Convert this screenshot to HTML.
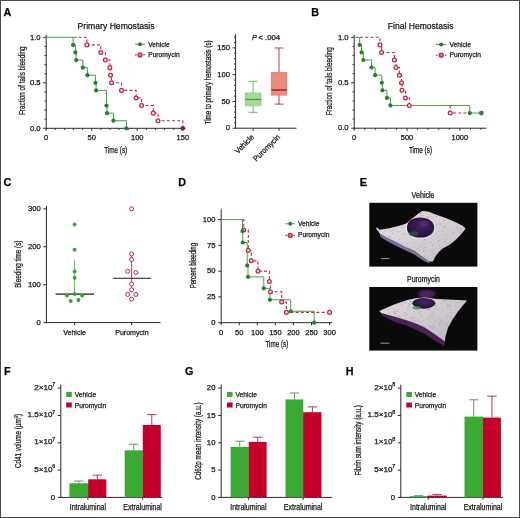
<!DOCTYPE html>
<html><head><meta charset="utf-8"><style>
html,body{margin:0;padding:0;background:#fff;}
svg{display:block;will-change:transform;}
text{font-family:"Liberation Sans",sans-serif;stroke:#161616;stroke-width:0.25px;}
</style></head><body>
<svg width="520" height="518" viewBox="0 0 520 518">
<rect width="520" height="518" fill="#fff"/>
<rect x="0.5" y="0.5" width="519" height="517" fill="none" stroke="#4a4a4a" stroke-width="1"/>
<text x="3.60" y="15.80" font-size="10.8" text-anchor="start" textLength="7.80" lengthAdjust="spacingAndGlyphs" fill="#000" font-weight="bold">A</text>
<text x="311.30" y="15.80" font-size="10.8" text-anchor="start" textLength="7.80" lengthAdjust="spacingAndGlyphs" fill="#000" font-weight="bold">B</text>
<text x="3.60" y="186.10" font-size="10.8" text-anchor="start" textLength="7.80" lengthAdjust="spacingAndGlyphs" fill="#000" font-weight="bold">C</text>
<text x="178.20" y="185.80" font-size="10.8" text-anchor="start" textLength="7.80" lengthAdjust="spacingAndGlyphs" fill="#000" font-weight="bold">D</text>
<text x="359.80" y="186.00" font-size="10.8" text-anchor="start" textLength="7.20" lengthAdjust="spacingAndGlyphs" fill="#000" font-weight="bold">E</text>
<text x="3.90" y="374.70" font-size="10.8" text-anchor="start" textLength="6.60" lengthAdjust="spacingAndGlyphs" fill="#000" font-weight="bold">F</text>
<text x="185.00" y="374.90" font-size="10.8" text-anchor="start" textLength="8.40" lengthAdjust="spacingAndGlyphs" fill="#000" font-weight="bold">G</text>
<text x="345.80" y="374.70" font-size="10.8" text-anchor="start" textLength="7.80" lengthAdjust="spacingAndGlyphs" fill="#000" font-weight="bold">H</text>
<text x="116.10" y="29.20" font-size="9.6" text-anchor="middle" textLength="77.00" lengthAdjust="spacingAndGlyphs" fill="#161616">Primary Hemostasis</text>
<line x1="46.20" y1="34.80" x2="46.20" y2="128.80" stroke="#2a2a2a" stroke-width="1.0"/>
<line x1="43.20" y1="37.30" x2="46.20" y2="37.30" stroke="#2a2a2a" stroke-width="1.0"/>
<text x="40.60" y="39.50" font-size="7.5" text-anchor="end" textLength="10.63" lengthAdjust="spacingAndGlyphs" fill="#161616">1.0</text>
<line x1="43.20" y1="82.80" x2="46.20" y2="82.80" stroke="#2a2a2a" stroke-width="1.0"/>
<text x="40.60" y="85.00" font-size="7.5" text-anchor="end" textLength="10.63" lengthAdjust="spacingAndGlyphs" fill="#161616">0.5</text>
<line x1="43.20" y1="128.30" x2="46.20" y2="128.30" stroke="#2a2a2a" stroke-width="1.0"/>
<text x="40.60" y="130.50" font-size="7.5" text-anchor="end" textLength="10.63" lengthAdjust="spacingAndGlyphs" fill="#161616">0.0</text>
<line x1="44.60" y1="119.20" x2="46.20" y2="119.20" stroke="#2a2a2a" stroke-width="1.0"/>
<line x1="44.60" y1="110.10" x2="46.20" y2="110.10" stroke="#2a2a2a" stroke-width="1.0"/>
<line x1="44.60" y1="101.00" x2="46.20" y2="101.00" stroke="#2a2a2a" stroke-width="1.0"/>
<line x1="44.60" y1="91.90" x2="46.20" y2="91.90" stroke="#2a2a2a" stroke-width="1.0"/>
<line x1="44.60" y1="73.70" x2="46.20" y2="73.70" stroke="#2a2a2a" stroke-width="1.0"/>
<line x1="44.60" y1="64.60" x2="46.20" y2="64.60" stroke="#2a2a2a" stroke-width="1.0"/>
<line x1="44.60" y1="55.50" x2="46.20" y2="55.50" stroke="#2a2a2a" stroke-width="1.0"/>
<line x1="44.60" y1="46.40" x2="46.20" y2="46.40" stroke="#2a2a2a" stroke-width="1.0"/>
<line x1="45.70" y1="128.30" x2="185.50" y2="128.30" stroke="#2a2a2a" stroke-width="1.0"/>
<line x1="46.20" y1="128.30" x2="46.20" y2="130.90" stroke="#2a2a2a" stroke-width="1.0"/>
<text x="46.20" y="140.20" font-size="7.5" text-anchor="middle" textLength="4.17" lengthAdjust="spacingAndGlyphs" fill="#161616">0</text>
<line x1="91.73" y1="128.30" x2="91.73" y2="130.90" stroke="#2a2a2a" stroke-width="1.0"/>
<text x="91.73" y="140.20" font-size="7.5" text-anchor="middle" textLength="8.34" lengthAdjust="spacingAndGlyphs" fill="#161616">50</text>
<line x1="137.27" y1="128.30" x2="137.27" y2="130.90" stroke="#2a2a2a" stroke-width="1.0"/>
<text x="137.27" y="140.20" font-size="7.5" text-anchor="middle" textLength="12.51" lengthAdjust="spacingAndGlyphs" fill="#161616">100</text>
<line x1="182.81" y1="128.30" x2="182.81" y2="130.90" stroke="#2a2a2a" stroke-width="1.0"/>
<text x="182.81" y="140.20" font-size="7.5" text-anchor="middle" textLength="12.51" lengthAdjust="spacingAndGlyphs" fill="#161616">150</text>
<line x1="55.31" y1="128.30" x2="55.31" y2="129.90" stroke="#2a2a2a" stroke-width="1.0"/>
<line x1="64.41" y1="128.30" x2="64.41" y2="129.90" stroke="#2a2a2a" stroke-width="1.0"/>
<line x1="73.52" y1="128.30" x2="73.52" y2="129.90" stroke="#2a2a2a" stroke-width="1.0"/>
<line x1="82.63" y1="128.30" x2="82.63" y2="129.90" stroke="#2a2a2a" stroke-width="1.0"/>
<line x1="100.84" y1="128.30" x2="100.84" y2="129.90" stroke="#2a2a2a" stroke-width="1.0"/>
<line x1="109.95" y1="128.30" x2="109.95" y2="129.90" stroke="#2a2a2a" stroke-width="1.0"/>
<line x1="119.06" y1="128.30" x2="119.06" y2="129.90" stroke="#2a2a2a" stroke-width="1.0"/>
<line x1="128.16" y1="128.30" x2="128.16" y2="129.90" stroke="#2a2a2a" stroke-width="1.0"/>
<line x1="146.38" y1="128.30" x2="146.38" y2="129.90" stroke="#2a2a2a" stroke-width="1.0"/>
<line x1="155.48" y1="128.30" x2="155.48" y2="129.90" stroke="#2a2a2a" stroke-width="1.0"/>
<line x1="164.59" y1="128.30" x2="164.59" y2="129.90" stroke="#2a2a2a" stroke-width="1.0"/>
<line x1="173.70" y1="128.30" x2="173.70" y2="129.90" stroke="#2a2a2a" stroke-width="1.0"/>
<text x="24.70" y="80.70" font-size="8.5" text-anchor="middle" textLength="68.60" lengthAdjust="spacingAndGlyphs" fill="#161616" transform="rotate(-90 24.70 80.70)">Fraction of tails bleeding</text>
<text x="115.70" y="152.90" font-size="8.9" text-anchor="middle" textLength="23.10" lengthAdjust="spacingAndGlyphs" fill="#161616">Time (s)</text>
<path d="M73.40,37.30 H86.90 V44.88 H100.80 V52.47 H105.30 V60.05 H109.90 V67.63 H110.60 V75.22 H111.50 V82.80 H121.50 V90.38 H136.10 V97.97 H141.60 V105.55 H153.30 V113.13 H158.00 V120.72 H182.80 V128.30" fill="none" stroke="#bb2643" stroke-width="1.1" stroke-dasharray="3,2.2"/>
<path d="M46.20,37.30 H73.10 V44.88 H75.40 V52.47 H76.20 V60.05 H82.80 V67.63 H87.40 V75.22 H95.40 V82.80 H96.10 V90.38 H106.50 V105.55 H107.00 V113.13 H113.40 V120.72 H126.40 V128.30" fill="none" stroke="#3c9a3c" stroke-width="0.95"/>
<circle cx="86.90" cy="44.88" r="1.9" fill="#f7dfe3" stroke="#bb2643" stroke-width="1.25"/>
<circle cx="100.80" cy="52.47" r="1.9" fill="#f7dfe3" stroke="#bb2643" stroke-width="1.25"/>
<circle cx="105.30" cy="60.05" r="1.9" fill="#f7dfe3" stroke="#bb2643" stroke-width="1.25"/>
<circle cx="109.90" cy="67.63" r="1.9" fill="#f7dfe3" stroke="#bb2643" stroke-width="1.25"/>
<circle cx="110.60" cy="75.22" r="1.9" fill="#f7dfe3" stroke="#bb2643" stroke-width="1.25"/>
<circle cx="111.50" cy="82.80" r="1.9" fill="#f7dfe3" stroke="#bb2643" stroke-width="1.25"/>
<circle cx="121.50" cy="90.38" r="1.9" fill="#f7dfe3" stroke="#bb2643" stroke-width="1.25"/>
<circle cx="136.10" cy="97.97" r="1.9" fill="#f7dfe3" stroke="#bb2643" stroke-width="1.25"/>
<circle cx="141.60" cy="105.55" r="1.9" fill="#f7dfe3" stroke="#bb2643" stroke-width="1.25"/>
<circle cx="153.30" cy="113.13" r="1.9" fill="#f7dfe3" stroke="#bb2643" stroke-width="1.25"/>
<circle cx="158.00" cy="120.72" r="1.9" fill="#f7dfe3" stroke="#bb2643" stroke-width="1.25"/>
<circle cx="182.80" cy="128.30" r="2.3" fill="#9a1530" stroke="none" stroke-width="1.0"/>
<circle cx="73.10" cy="44.88" r="2.1" fill="#23802f" stroke="none" stroke-width="1.0"/>
<circle cx="75.40" cy="52.47" r="2.1" fill="#23802f" stroke="none" stroke-width="1.0"/>
<circle cx="76.20" cy="60.05" r="2.1" fill="#23802f" stroke="none" stroke-width="1.0"/>
<circle cx="82.80" cy="67.63" r="2.1" fill="#23802f" stroke="none" stroke-width="1.0"/>
<circle cx="87.40" cy="75.22" r="2.1" fill="#23802f" stroke="none" stroke-width="1.0"/>
<circle cx="95.40" cy="82.80" r="2.1" fill="#23802f" stroke="none" stroke-width="1.0"/>
<circle cx="96.10" cy="90.38" r="2.1" fill="#23802f" stroke="none" stroke-width="1.0"/>
<circle cx="106.50" cy="105.55" r="2.1" fill="#23802f" stroke="none" stroke-width="1.0"/>
<circle cx="107.00" cy="113.13" r="2.1" fill="#23802f" stroke="none" stroke-width="1.0"/>
<circle cx="113.40" cy="120.72" r="2.1" fill="#23802f" stroke="none" stroke-width="1.0"/>
<circle cx="126.40" cy="128.30" r="2.1" fill="#23802f" stroke="none" stroke-width="1.0"/>
<line x1="135.10" y1="44.20" x2="144.80" y2="44.20" stroke="#3c9a3c" stroke-width="1.0"/>
<circle cx="139.95" cy="44.20" r="2.0" fill="#23802f" stroke="none" stroke-width="1.0"/>
<line x1="135.10" y1="54.90" x2="136.70" y2="54.90" stroke="#bb2643" stroke-width="1.1"/>
<line x1="143.20" y1="54.90" x2="144.80" y2="54.90" stroke="#bb2643" stroke-width="1.1"/>
<circle cx="139.95" cy="54.90" r="2.0" fill="#d9788a" stroke="#bb2643" stroke-width="1.2"/>
<text x="148.20" y="46.50" font-size="7.4" text-anchor="start" textLength="21.48" lengthAdjust="spacingAndGlyphs" fill="#161616">Vehicle</text>
<text x="148.20" y="56.90" font-size="7.4" text-anchor="start" textLength="31.46" lengthAdjust="spacingAndGlyphs" fill="#161616">Puromycin</text>
<line x1="235.60" y1="34.50" x2="235.60" y2="128.70" stroke="#2a2a2a" stroke-width="1.0"/>
<line x1="232.60" y1="128.20" x2="235.60" y2="128.20" stroke="#2a2a2a" stroke-width="1.0"/>
<text x="230.00" y="130.40" font-size="7.5" text-anchor="end" textLength="4.25" lengthAdjust="spacingAndGlyphs" fill="#161616">0</text>
<line x1="232.60" y1="101.43" x2="235.60" y2="101.43" stroke="#2a2a2a" stroke-width="1.0"/>
<text x="230.00" y="103.63" font-size="7.5" text-anchor="end" textLength="8.51" lengthAdjust="spacingAndGlyphs" fill="#161616">50</text>
<line x1="232.60" y1="74.67" x2="235.60" y2="74.67" stroke="#2a2a2a" stroke-width="1.0"/>
<text x="230.00" y="76.87" font-size="7.5" text-anchor="end" textLength="12.76" lengthAdjust="spacingAndGlyphs" fill="#161616">100</text>
<line x1="232.60" y1="47.90" x2="235.60" y2="47.90" stroke="#2a2a2a" stroke-width="1.0"/>
<text x="230.00" y="50.10" font-size="7.5" text-anchor="end" textLength="12.76" lengthAdjust="spacingAndGlyphs" fill="#161616">150</text>
<line x1="234.00" y1="122.85" x2="235.60" y2="122.85" stroke="#2a2a2a" stroke-width="1.0"/>
<line x1="234.00" y1="117.49" x2="235.60" y2="117.49" stroke="#2a2a2a" stroke-width="1.0"/>
<line x1="234.00" y1="112.14" x2="235.60" y2="112.14" stroke="#2a2a2a" stroke-width="1.0"/>
<line x1="234.00" y1="106.79" x2="235.60" y2="106.79" stroke="#2a2a2a" stroke-width="1.0"/>
<line x1="234.00" y1="96.08" x2="235.60" y2="96.08" stroke="#2a2a2a" stroke-width="1.0"/>
<line x1="234.00" y1="90.73" x2="235.60" y2="90.73" stroke="#2a2a2a" stroke-width="1.0"/>
<line x1="234.00" y1="85.37" x2="235.60" y2="85.37" stroke="#2a2a2a" stroke-width="1.0"/>
<line x1="234.00" y1="80.02" x2="235.60" y2="80.02" stroke="#2a2a2a" stroke-width="1.0"/>
<line x1="234.00" y1="69.31" x2="235.60" y2="69.31" stroke="#2a2a2a" stroke-width="1.0"/>
<line x1="234.00" y1="63.96" x2="235.60" y2="63.96" stroke="#2a2a2a" stroke-width="1.0"/>
<line x1="234.00" y1="58.61" x2="235.60" y2="58.61" stroke="#2a2a2a" stroke-width="1.0"/>
<line x1="234.00" y1="53.25" x2="235.60" y2="53.25" stroke="#2a2a2a" stroke-width="1.0"/>
<line x1="234.00" y1="42.55" x2="235.60" y2="42.55" stroke="#2a2a2a" stroke-width="1.0"/>
<line x1="234.00" y1="37.19" x2="235.60" y2="37.19" stroke="#2a2a2a" stroke-width="1.0"/>
<line x1="235.10" y1="128.20" x2="296.50" y2="128.20" stroke="#2a2a2a" stroke-width="1.0"/>
<line x1="253.10" y1="128.20" x2="253.10" y2="130.80" stroke="#2a2a2a" stroke-width="1.0"/>
<line x1="279.00" y1="128.20" x2="279.00" y2="130.80" stroke="#2a2a2a" stroke-width="1.0"/>
<text x="211.40" y="82.40" font-size="8.5" text-anchor="middle" textLength="83.80" lengthAdjust="spacingAndGlyphs" fill="#161616" transform="rotate(-90 211.40 82.40)">Time to primary hemostasis (s)</text>
<text x="252.00" y="39.60" font-size="7.3" text-anchor="start" textLength="4.87" lengthAdjust="spacingAndGlyphs" fill="#161616" font-style="italic">P</text>
<text x="258.30" y="39.60" font-size="7.3" text-anchor="start" textLength="21.90" lengthAdjust="spacingAndGlyphs" fill="#161616">&lt; .004</text>
<line x1="253.10" y1="81.30" x2="253.10" y2="112.30" stroke="#6cb46c" stroke-width="1.0"/>
<line x1="248.60" y1="81.30" x2="257.60" y2="81.30" stroke="#6cb46c" stroke-width="1.0"/>
<line x1="248.60" y1="112.30" x2="257.60" y2="112.30" stroke="#6cb46c" stroke-width="1.0"/>
<rect x="245.2" y="93.0" width="15.8" height="12.8" fill="#a7d99b" stroke="#8fca82" stroke-width="0.8"/>
<line x1="245.20" y1="99.50" x2="261.00" y2="99.50" stroke="#3f9b3f" stroke-width="1.2"/>
<line x1="279.00" y1="48.00" x2="279.00" y2="104.10" stroke="#c23a50" stroke-width="1.0"/>
<line x1="274.50" y1="48.00" x2="283.50" y2="48.00" stroke="#c23a50" stroke-width="1.0"/>
<line x1="274.50" y1="104.10" x2="283.50" y2="104.10" stroke="#c23a50" stroke-width="1.0"/>
<rect x="271.4" y="72.5" width="15.4" height="22.6" fill="#ec8a80" stroke="#e07a72" stroke-width="0.8"/>
<line x1="271.40" y1="90.00" x2="286.80" y2="90.00" stroke="#a81c32" stroke-width="1.5"/>
<text x="254.60" y="137.60" font-size="7.8" text-anchor="end" textLength="23.39" lengthAdjust="spacingAndGlyphs" fill="#161616" transform="rotate(-45 254.60 137.60)">Vehicle</text>
<text x="280.60" y="137.60" font-size="7.8" text-anchor="end" textLength="34.26" lengthAdjust="spacingAndGlyphs" fill="#161616" transform="rotate(-45 280.60 137.60)">Puromycin</text>
<text x="420.60" y="29.40" font-size="9.3" text-anchor="middle" textLength="65.70" lengthAdjust="spacingAndGlyphs" fill="#161616">Final Hemostasis</text>
<line x1="354.20" y1="34.80" x2="354.20" y2="128.70" stroke="#2a2a2a" stroke-width="1.0"/>
<line x1="351.20" y1="37.30" x2="354.20" y2="37.30" stroke="#2a2a2a" stroke-width="1.0"/>
<text x="348.60" y="39.50" font-size="7.5" text-anchor="end" textLength="10.63" lengthAdjust="spacingAndGlyphs" fill="#161616">1.0</text>
<line x1="351.20" y1="82.75" x2="354.20" y2="82.75" stroke="#2a2a2a" stroke-width="1.0"/>
<text x="348.60" y="84.95" font-size="7.5" text-anchor="end" textLength="10.63" lengthAdjust="spacingAndGlyphs" fill="#161616">0.5</text>
<line x1="351.20" y1="128.20" x2="354.20" y2="128.20" stroke="#2a2a2a" stroke-width="1.0"/>
<text x="348.60" y="130.40" font-size="7.5" text-anchor="end" textLength="10.63" lengthAdjust="spacingAndGlyphs" fill="#161616">0.0</text>
<line x1="352.60" y1="119.11" x2="354.20" y2="119.11" stroke="#2a2a2a" stroke-width="1.0"/>
<line x1="352.60" y1="110.02" x2="354.20" y2="110.02" stroke="#2a2a2a" stroke-width="1.0"/>
<line x1="352.60" y1="100.93" x2="354.20" y2="100.93" stroke="#2a2a2a" stroke-width="1.0"/>
<line x1="352.60" y1="91.84" x2="354.20" y2="91.84" stroke="#2a2a2a" stroke-width="1.0"/>
<line x1="352.60" y1="73.66" x2="354.20" y2="73.66" stroke="#2a2a2a" stroke-width="1.0"/>
<line x1="352.60" y1="64.57" x2="354.20" y2="64.57" stroke="#2a2a2a" stroke-width="1.0"/>
<line x1="352.60" y1="55.48" x2="354.20" y2="55.48" stroke="#2a2a2a" stroke-width="1.0"/>
<line x1="352.60" y1="46.39" x2="354.20" y2="46.39" stroke="#2a2a2a" stroke-width="1.0"/>
<line x1="353.70" y1="128.20" x2="486.50" y2="128.20" stroke="#2a2a2a" stroke-width="1.0"/>
<line x1="354.20" y1="128.20" x2="354.20" y2="130.80" stroke="#2a2a2a" stroke-width="1.0"/>
<text x="354.20" y="140.10" font-size="7.5" text-anchor="middle" textLength="4.17" lengthAdjust="spacingAndGlyphs" fill="#161616">0</text>
<line x1="407.03" y1="128.20" x2="407.03" y2="130.80" stroke="#2a2a2a" stroke-width="1.0"/>
<text x="407.03" y="140.10" font-size="7.5" text-anchor="middle" textLength="12.51" lengthAdjust="spacingAndGlyphs" fill="#161616">500</text>
<line x1="459.87" y1="128.20" x2="459.87" y2="130.80" stroke="#2a2a2a" stroke-width="1.0"/>
<text x="459.87" y="140.10" font-size="7.5" text-anchor="middle" textLength="16.68" lengthAdjust="spacingAndGlyphs" fill="#161616">1000</text>
<line x1="364.77" y1="128.20" x2="364.77" y2="129.80" stroke="#2a2a2a" stroke-width="1.0"/>
<line x1="375.33" y1="128.20" x2="375.33" y2="129.80" stroke="#2a2a2a" stroke-width="1.0"/>
<line x1="385.90" y1="128.20" x2="385.90" y2="129.80" stroke="#2a2a2a" stroke-width="1.0"/>
<line x1="396.47" y1="128.20" x2="396.47" y2="129.80" stroke="#2a2a2a" stroke-width="1.0"/>
<line x1="417.60" y1="128.20" x2="417.60" y2="129.80" stroke="#2a2a2a" stroke-width="1.0"/>
<line x1="428.17" y1="128.20" x2="428.17" y2="129.80" stroke="#2a2a2a" stroke-width="1.0"/>
<line x1="438.74" y1="128.20" x2="438.74" y2="129.80" stroke="#2a2a2a" stroke-width="1.0"/>
<line x1="449.30" y1="128.20" x2="449.30" y2="129.80" stroke="#2a2a2a" stroke-width="1.0"/>
<line x1="470.44" y1="128.20" x2="470.44" y2="129.80" stroke="#2a2a2a" stroke-width="1.0"/>
<line x1="481.00" y1="128.20" x2="481.00" y2="129.80" stroke="#2a2a2a" stroke-width="1.0"/>
<text x="332.40" y="81.20" font-size="8.5" text-anchor="middle" textLength="68.00" lengthAdjust="spacingAndGlyphs" fill="#161616" transform="rotate(-90 332.40 81.20)">Fraction of tails bleeding</text>
<text x="420.50" y="152.90" font-size="8.9" text-anchor="middle" textLength="23.10" lengthAdjust="spacingAndGlyphs" fill="#161616">Time (s)</text>
<path d="M360.00,37.30 H379.90 V44.88 H381.60 V52.45 H394.40 V60.02 H395.90 V67.60 H399.40 V75.17 H401.50 V82.75 H402.00 V90.32 H405.40 V97.90 H409.30 V105.47 M450.2,105.47 V113.05 H469.8" fill="none" stroke="#bb2643" stroke-width="1.1" stroke-dasharray="3,2.2"/>
<path d="M354.20,37.30 H359.70 V44.88 H361.60 V52.45 H363.30 V60.02 H371.50 V67.60 H375.10 V75.17 H381.80 V82.75 H382.40 V90.32 H386.90 V97.90 H390.40 V105.47 H469.80 V113.05 H481.3" fill="none" stroke="#3c9a3c" stroke-width="0.95"/>
<circle cx="379.90" cy="44.88" r="1.9" fill="#f7dfe3" stroke="#bb2643" stroke-width="1.25"/>
<circle cx="381.60" cy="52.45" r="1.9" fill="#f7dfe3" stroke="#bb2643" stroke-width="1.25"/>
<circle cx="394.40" cy="60.02" r="1.9" fill="#f7dfe3" stroke="#bb2643" stroke-width="1.25"/>
<circle cx="395.90" cy="67.60" r="1.9" fill="#f7dfe3" stroke="#bb2643" stroke-width="1.25"/>
<circle cx="399.40" cy="75.17" r="1.9" fill="#f7dfe3" stroke="#bb2643" stroke-width="1.25"/>
<circle cx="401.50" cy="82.75" r="1.9" fill="#f7dfe3" stroke="#bb2643" stroke-width="1.25"/>
<circle cx="402.00" cy="90.32" r="1.9" fill="#f7dfe3" stroke="#bb2643" stroke-width="1.25"/>
<circle cx="405.40" cy="97.90" r="1.9" fill="#f7dfe3" stroke="#bb2643" stroke-width="1.25"/>
<circle cx="409.30" cy="105.47" r="1.9" fill="#f7dfe3" stroke="#bb2643" stroke-width="1.25"/>
<circle cx="450.20" cy="113.05" r="1.9" fill="#f7dfe3" stroke="#bb2643" stroke-width="1.25"/>
<circle cx="359.70" cy="44.88" r="2.1" fill="#23802f" stroke="none" stroke-width="1.0"/>
<circle cx="361.60" cy="52.45" r="2.1" fill="#23802f" stroke="none" stroke-width="1.0"/>
<circle cx="363.30" cy="60.02" r="2.1" fill="#23802f" stroke="none" stroke-width="1.0"/>
<circle cx="371.50" cy="67.60" r="2.1" fill="#23802f" stroke="none" stroke-width="1.0"/>
<circle cx="375.10" cy="75.17" r="2.1" fill="#23802f" stroke="none" stroke-width="1.0"/>
<circle cx="381.80" cy="82.75" r="2.1" fill="#23802f" stroke="none" stroke-width="1.0"/>
<circle cx="382.40" cy="90.32" r="2.1" fill="#23802f" stroke="none" stroke-width="1.0"/>
<circle cx="386.90" cy="97.90" r="2.1" fill="#23802f" stroke="none" stroke-width="1.0"/>
<circle cx="390.40" cy="105.47" r="2.1" fill="#23802f" stroke="none" stroke-width="1.0"/>
<circle cx="469.80" cy="113.05" r="2.1" fill="#23802f" stroke="none" stroke-width="1.0"/>
<circle cx="481.30" cy="113.05" r="2.4" fill="#3a7a3a" stroke="none" stroke-width="1.0"/>
<line x1="436.00" y1="44.40" x2="446.40" y2="44.40" stroke="#3c9a3c" stroke-width="1.0"/>
<circle cx="441.20" cy="44.40" r="2.0" fill="#23802f" stroke="none" stroke-width="1.0"/>
<line x1="436.00" y1="55.20" x2="437.60" y2="55.20" stroke="#bb2643" stroke-width="1.1"/>
<line x1="444.80" y1="55.20" x2="446.40" y2="55.20" stroke="#bb2643" stroke-width="1.1"/>
<circle cx="441.20" cy="55.20" r="2.0" fill="#d9788a" stroke="#bb2643" stroke-width="1.2"/>
<text x="449.50" y="46.70" font-size="7.4" text-anchor="start" textLength="21.48" lengthAdjust="spacingAndGlyphs" fill="#161616">Vehicle</text>
<text x="449.50" y="57.20" font-size="7.4" text-anchor="start" textLength="31.46" lengthAdjust="spacingAndGlyphs" fill="#161616">Puromycin</text>
<line x1="46.40" y1="205.80" x2="46.40" y2="323.10" stroke="#2a2a2a" stroke-width="1.0"/>
<line x1="43.40" y1="322.60" x2="46.40" y2="322.60" stroke="#2a2a2a" stroke-width="1.0"/>
<text x="40.80" y="324.80" font-size="7.5" text-anchor="end" textLength="4.25" lengthAdjust="spacingAndGlyphs" fill="#161616">0</text>
<line x1="43.40" y1="284.67" x2="46.40" y2="284.67" stroke="#2a2a2a" stroke-width="1.0"/>
<text x="40.80" y="286.87" font-size="7.5" text-anchor="end" textLength="12.76" lengthAdjust="spacingAndGlyphs" fill="#161616">100</text>
<line x1="43.40" y1="246.73" x2="46.40" y2="246.73" stroke="#2a2a2a" stroke-width="1.0"/>
<text x="40.80" y="248.93" font-size="7.5" text-anchor="end" textLength="12.76" lengthAdjust="spacingAndGlyphs" fill="#161616">200</text>
<line x1="43.40" y1="208.80" x2="46.40" y2="208.80" stroke="#2a2a2a" stroke-width="1.0"/>
<text x="40.80" y="211.00" font-size="7.5" text-anchor="end" textLength="12.76" lengthAdjust="spacingAndGlyphs" fill="#161616">300</text>
<line x1="45.90" y1="322.60" x2="160.50" y2="322.60" stroke="#2a2a2a" stroke-width="1.0"/>
<line x1="74.60" y1="322.60" x2="74.60" y2="325.20" stroke="#2a2a2a" stroke-width="1.0"/>
<line x1="131.60" y1="322.60" x2="131.60" y2="325.20" stroke="#2a2a2a" stroke-width="1.0"/>
<text x="74.60" y="335.40" font-size="7.9" text-anchor="middle" textLength="22.80" lengthAdjust="spacingAndGlyphs" fill="#161616">Vehicle</text>
<text x="131.90" y="335.40" font-size="7.9" text-anchor="middle" textLength="33.40" lengthAdjust="spacingAndGlyphs" fill="#161616">Puromycin</text>
<text x="20.60" y="264.20" font-size="8.5" text-anchor="middle" textLength="47.30" lengthAdjust="spacingAndGlyphs" fill="#161616" transform="rotate(-90 20.60 264.20)">Bleeding time (s)</text>
<line x1="74.60" y1="260.20" x2="74.60" y2="294.10" stroke="#5cbf55" stroke-width="1.0"/>
<line x1="55.60" y1="294.10" x2="94.00" y2="294.10" stroke="#1a1a1a" stroke-width="1.05"/>
<circle cx="74.60" cy="224.60" r="2.0" fill="#3aa33a" stroke="none" stroke-width="1.0"/>
<circle cx="74.60" cy="249.70" r="2.0" fill="#3aa33a" stroke="none" stroke-width="1.0"/>
<circle cx="74.60" cy="271.50" r="2.0" fill="#3aa33a" stroke="none" stroke-width="1.0"/>
<circle cx="74.60" cy="277.80" r="2.0" fill="#3aa33a" stroke="none" stroke-width="1.0"/>
<circle cx="66.90" cy="295.40" r="2.0" fill="#3aa33a" stroke="none" stroke-width="1.0"/>
<circle cx="74.60" cy="294.10" r="2.0" fill="#3aa33a" stroke="none" stroke-width="1.0"/>
<circle cx="82.20" cy="295.40" r="2.0" fill="#3aa33a" stroke="none" stroke-width="1.0"/>
<circle cx="70.60" cy="300.90" r="2.0" fill="#3aa33a" stroke="none" stroke-width="1.0"/>
<circle cx="78.40" cy="299.90" r="2.0" fill="#3aa33a" stroke="none" stroke-width="1.0"/>
<line x1="131.60" y1="254.00" x2="131.60" y2="289.80" stroke="#b83650" stroke-width="0.95"/>
<line x1="113.00" y1="278.30" x2="151.00" y2="278.30" stroke="#1a1a1a" stroke-width="1.05"/>
<circle cx="131.60" cy="208.80" r="2.0" fill="#fff" stroke="#bb2643" stroke-width="1.0"/>
<circle cx="131.60" cy="254.00" r="2.0" fill="#fff" stroke="#bb2643" stroke-width="1.0"/>
<circle cx="131.60" cy="259.50" r="2.0" fill="#fff" stroke="#bb2643" stroke-width="1.0"/>
<circle cx="127.60" cy="271.30" r="2.0" fill="#fff" stroke="#bb2643" stroke-width="1.0"/>
<circle cx="135.90" cy="272.50" r="2.0" fill="#fff" stroke="#bb2643" stroke-width="1.0"/>
<circle cx="131.60" cy="284.00" r="2.0" fill="#fff" stroke="#bb2643" stroke-width="1.0"/>
<circle cx="131.60" cy="289.80" r="2.0" fill="#fff" stroke="#bb2643" stroke-width="1.0"/>
<circle cx="127.60" cy="294.40" r="2.0" fill="#fff" stroke="#bb2643" stroke-width="1.0"/>
<circle cx="135.90" cy="294.40" r="2.0" fill="#fff" stroke="#bb2643" stroke-width="1.0"/>
<circle cx="131.60" cy="299.10" r="2.0" fill="#fff" stroke="#bb2643" stroke-width="1.0"/>
<line x1="221.20" y1="208.90" x2="221.20" y2="323.20" stroke="#2a2a2a" stroke-width="1.0"/>
<line x1="218.20" y1="322.70" x2="221.20" y2="322.70" stroke="#2a2a2a" stroke-width="1.0"/>
<text x="215.60" y="324.90" font-size="7.5" text-anchor="end" textLength="4.25" lengthAdjust="spacingAndGlyphs" fill="#161616">0</text>
<line x1="218.20" y1="296.93" x2="221.20" y2="296.93" stroke="#2a2a2a" stroke-width="1.0"/>
<text x="215.60" y="299.12" font-size="7.5" text-anchor="end" textLength="8.51" lengthAdjust="spacingAndGlyphs" fill="#161616">25</text>
<line x1="218.20" y1="271.15" x2="221.20" y2="271.15" stroke="#2a2a2a" stroke-width="1.0"/>
<text x="215.60" y="273.35" font-size="7.5" text-anchor="end" textLength="8.51" lengthAdjust="spacingAndGlyphs" fill="#161616">50</text>
<line x1="218.20" y1="245.38" x2="221.20" y2="245.38" stroke="#2a2a2a" stroke-width="1.0"/>
<text x="215.60" y="247.57" font-size="7.5" text-anchor="end" textLength="8.51" lengthAdjust="spacingAndGlyphs" fill="#161616">75</text>
<line x1="218.20" y1="219.60" x2="221.20" y2="219.60" stroke="#2a2a2a" stroke-width="1.0"/>
<text x="215.60" y="221.80" font-size="7.5" text-anchor="end" textLength="12.76" lengthAdjust="spacingAndGlyphs" fill="#161616">100</text>
<line x1="220.70" y1="322.70" x2="332.30" y2="322.70" stroke="#2a2a2a" stroke-width="1.0"/>
<line x1="221.20" y1="322.70" x2="221.20" y2="325.30" stroke="#2a2a2a" stroke-width="1.0"/>
<text x="221.20" y="334.60" font-size="7.5" text-anchor="middle" textLength="4.17" lengthAdjust="spacingAndGlyphs" fill="#161616">0</text>
<line x1="239.26" y1="322.70" x2="239.26" y2="325.30" stroke="#2a2a2a" stroke-width="1.0"/>
<text x="239.26" y="334.60" font-size="7.5" text-anchor="middle" textLength="8.34" lengthAdjust="spacingAndGlyphs" fill="#161616">50</text>
<line x1="257.33" y1="322.70" x2="257.33" y2="325.30" stroke="#2a2a2a" stroke-width="1.0"/>
<text x="257.33" y="334.60" font-size="7.5" text-anchor="middle" textLength="12.51" lengthAdjust="spacingAndGlyphs" fill="#161616">100</text>
<line x1="275.39" y1="322.70" x2="275.39" y2="325.30" stroke="#2a2a2a" stroke-width="1.0"/>
<text x="275.39" y="334.60" font-size="7.5" text-anchor="middle" textLength="12.51" lengthAdjust="spacingAndGlyphs" fill="#161616">150</text>
<line x1="293.46" y1="322.70" x2="293.46" y2="325.30" stroke="#2a2a2a" stroke-width="1.0"/>
<text x="293.46" y="334.60" font-size="7.5" text-anchor="middle" textLength="12.51" lengthAdjust="spacingAndGlyphs" fill="#161616">200</text>
<line x1="311.52" y1="322.70" x2="311.52" y2="325.30" stroke="#2a2a2a" stroke-width="1.0"/>
<text x="311.52" y="334.60" font-size="7.5" text-anchor="middle" textLength="12.51" lengthAdjust="spacingAndGlyphs" fill="#161616">250</text>
<line x1="329.59" y1="322.70" x2="329.59" y2="325.30" stroke="#2a2a2a" stroke-width="1.0"/>
<text x="329.59" y="334.60" font-size="7.5" text-anchor="middle" textLength="12.51" lengthAdjust="spacingAndGlyphs" fill="#161616">300</text>
<text x="196.00" y="265.60" font-size="8.5" text-anchor="middle" textLength="45.40" lengthAdjust="spacingAndGlyphs" fill="#161616" transform="rotate(-90 196.00 265.60)">Percent bleeding</text>
<text x="276.90" y="347.40" font-size="8.9" text-anchor="middle" textLength="22.80" lengthAdjust="spacingAndGlyphs" fill="#161616">Time (s)</text>
<path d="M242.80,219.60 H243.80 V229.91 H248.30 V250.53 H251.30 V260.84 H258.00 V271.15 H269.40 V281.46 H270.40 V291.77 H281.70 V302.08 H286.40 V312.39 H329.6" fill="none" stroke="#bb2643" stroke-width="1.1" stroke-dasharray="3,2.2"/>
<path d="M221.20,219.60 H242.50 V231.06 H242.80 V242.51 H247.20 V265.42 H248.00 V276.88 H263.80 V288.33 H269.90 V299.79 H290.70 V311.24 H314.20 V322.70" fill="none" stroke="#3c9a3c" stroke-width="0.95"/>
<circle cx="243.80" cy="229.91" r="1.9" fill="#f7dfe3" stroke="#bb2643" stroke-width="1.25"/>
<circle cx="248.30" cy="250.53" r="1.9" fill="#f7dfe3" stroke="#bb2643" stroke-width="1.25"/>
<circle cx="251.30" cy="260.84" r="1.9" fill="#f7dfe3" stroke="#bb2643" stroke-width="1.25"/>
<circle cx="258.00" cy="271.15" r="1.9" fill="#f7dfe3" stroke="#bb2643" stroke-width="1.25"/>
<circle cx="269.40" cy="281.46" r="1.9" fill="#f7dfe3" stroke="#bb2643" stroke-width="1.25"/>
<circle cx="270.40" cy="291.77" r="1.9" fill="#f7dfe3" stroke="#bb2643" stroke-width="1.25"/>
<circle cx="281.70" cy="302.08" r="1.9" fill="#f7dfe3" stroke="#bb2643" stroke-width="1.25"/>
<circle cx="286.40" cy="312.39" r="1.9" fill="#f7dfe3" stroke="#bb2643" stroke-width="1.25"/>
<circle cx="329.60" cy="312.39" r="1.9" fill="#f7dfe3" stroke="#bb2643" stroke-width="1.25"/>
<circle cx="242.50" cy="231.06" r="2.1" fill="#23802f" stroke="none" stroke-width="1.0"/>
<circle cx="242.80" cy="242.51" r="2.1" fill="#23802f" stroke="none" stroke-width="1.0"/>
<circle cx="247.20" cy="265.42" r="2.1" fill="#23802f" stroke="none" stroke-width="1.0"/>
<circle cx="248.00" cy="276.88" r="2.1" fill="#23802f" stroke="none" stroke-width="1.0"/>
<circle cx="263.80" cy="288.33" r="2.1" fill="#23802f" stroke="none" stroke-width="1.0"/>
<circle cx="269.90" cy="299.79" r="2.1" fill="#23802f" stroke="none" stroke-width="1.0"/>
<circle cx="290.70" cy="311.24" r="2.1" fill="#23802f" stroke="none" stroke-width="1.0"/>
<circle cx="314.20" cy="322.70" r="2.1" fill="#23802f" stroke="none" stroke-width="1.0"/>
<line x1="285.40" y1="223.80" x2="295.00" y2="223.80" stroke="#3c9a3c" stroke-width="1.0"/>
<circle cx="290.20" cy="223.80" r="2.0" fill="#23802f" stroke="none" stroke-width="1.0"/>
<line x1="285.40" y1="235.40" x2="287.00" y2="235.40" stroke="#bb2643" stroke-width="1.1"/>
<line x1="293.40" y1="235.40" x2="295.00" y2="235.40" stroke="#bb2643" stroke-width="1.1"/>
<circle cx="290.20" cy="235.40" r="2.0" fill="#d9788a" stroke="#bb2643" stroke-width="1.2"/>
<text x="298.00" y="226.10" font-size="7.4" text-anchor="start" textLength="21.48" lengthAdjust="spacingAndGlyphs" fill="#161616">Vehicle</text>
<text x="298.00" y="237.40" font-size="7.4" text-anchor="start" textLength="31.46" lengthAdjust="spacingAndGlyphs" fill="#161616">Puromycin</text>
<text x="423.10" y="198.00" font-size="8.2" text-anchor="middle" textLength="23.00" lengthAdjust="spacingAndGlyphs" fill="#161616">Vehicle</text>
<text x="423.40" y="281.70" font-size="8.2" text-anchor="middle" textLength="32.80" lengthAdjust="spacingAndGlyphs" fill="#161616">Puromycin</text>
<defs><linearGradient id="gs1" x1="0" y1="0" x2="1" y2="1"><stop offset="0" stop-color="#e4dfe3"/><stop offset="0.6" stop-color="#d2ccd2"/><stop offset="1" stop-color="#c4bcc6"/></linearGradient><linearGradient id="gs2" x1="0" y1="0" x2="1" y2="1"><stop offset="0" stop-color="#e2dde2"/><stop offset="0.5" stop-color="#d0c9cf"/><stop offset="1" stop-color="#bdb5bf"/></linearGradient><radialGradient id="blob1" cx="0.55" cy="0.4" r="0.6"><stop offset="0" stop-color="#45246a"/><stop offset="0.7" stop-color="#2e1646"/><stop offset="1" stop-color="#1e0f2e"/></radialGradient><pattern id="spk" width="6" height="5" patternUnits="userSpaceOnUse"><circle cx="1" cy="1" r="0.45" fill="#8a8294"/><circle cx="4" cy="3.2" r="0.4" fill="#9b93a3"/></pattern><radialGradient id="blob2" cx="0.5" cy="0.5" r="0.5"><stop offset="0" stop-color="#4a2064"/><stop offset="0.6" stop-color="#38184c"/><stop offset="1" stop-color="#38184c" stop-opacity="0"/></radialGradient></defs>
<rect x="369.3" y="202.8" width="108.1" height="63.8" fill="#0a0a0b"/>
<rect x="369.3" y="287.0" width="108.1" height="63.6" fill="#0a0a0b"/>
<polygon points="379.7,233.4 388.2,238.3 398,243.1 406.5,247.4 415,251.1 422,256.5 425.6,259 429.3,261.4 429.3,263.2 425,261.6 420.8,259 414,254.2 405.5,250.4 397,246.2 387.5,241.4 380.2,236.6" fill="#7a6e9a"/>
<polygon points="376.7,227.3 379.5,229.8 388.2,228.5 400.4,225.5 407.7,223.1 412.6,218.2 418.7,213.3 422.3,210.9 428.1,211.5 437.8,215.2 446.3,218.2 456.1,222.5 462.1,225.5 465.2,227.9 465.2,229.2 460.9,234.6 456.1,239.5 450,244.4 442.7,248.6 439,251.7 435.4,256.5 432.9,261.4 429.3,261.4 425.6,259 422,256.5 415,251.1 406.5,247.4 398,243.1 388.2,238.3 379.7,233.4 378,231 376.2,228.5" fill="url(#gs1)"/>
<clipPath id="cp1"><polygon points="376.7,227.3 379.5,229.8 388.2,228.5 400.4,225.5 407.7,223.1 412.6,218.2 418.7,213.3 422.3,210.9 428.1,211.5 437.8,215.2 446.3,218.2 456.1,222.5 462.1,225.5 465.2,227.9 465.2,229.2 460.9,234.6 456.1,239.5 450,244.4 442.7,248.6 439,251.7 435.4,256.5 432.9,261.4 429.3,261.4 425.6,259 422,256.5 415,251.1 406.5,247.4 398,243.1 388.2,238.3 379.7,233.4 378,231 376.2,228.5"/></clipPath>
<g clip-path="url(#cp1)" opacity="0.8"><circle cx="405.1" cy="217.8" r="0.55" fill="#8e86a0"/><circle cx="382.5" cy="237.9" r="0.45" fill="#b7b0bf"/><circle cx="381.2" cy="236.4" r="0.35" fill="#8e86a0"/><circle cx="415.0" cy="213.6" r="0.35" fill="#b7b0bf"/><circle cx="414.2" cy="253.0" r="0.35" fill="#7d7390"/><circle cx="432.8" cy="240.3" r="0.35" fill="#b7b0bf"/><circle cx="428.7" cy="212.6" r="0.35" fill="#8e86a0"/><circle cx="426.1" cy="216.9" r="0.45" fill="#7d7390"/><circle cx="424.7" cy="239.7" r="0.55" fill="#7d7390"/><circle cx="385.3" cy="239.7" r="0.35" fill="#a39cb0"/><circle cx="384.8" cy="247.0" r="0.55" fill="#8e86a0"/><circle cx="431.7" cy="235.8" r="0.55" fill="#6f6a80"/><circle cx="446.0" cy="234.2" r="0.45" fill="#a39cb0"/><circle cx="403.0" cy="251.3" r="0.55" fill="#7d7390"/><circle cx="383.4" cy="225.6" r="0.45" fill="#a39cb0"/><circle cx="441.7" cy="225.0" r="0.35" fill="#8e86a0"/><circle cx="422.1" cy="218.6" r="0.45" fill="#7d7390"/><circle cx="460.0" cy="231.9" r="0.55" fill="#8e86a0"/><circle cx="444.8" cy="239.8" r="0.45" fill="#a39cb0"/><circle cx="438.6" cy="240.9" r="0.55" fill="#6f6a80"/><circle cx="382.2" cy="214.9" r="0.45" fill="#6f6a80"/><circle cx="438.7" cy="213.4" r="0.55" fill="#a39cb0"/><circle cx="434.2" cy="261.6" r="0.45" fill="#a39cb0"/><circle cx="440.5" cy="256.1" r="0.45" fill="#8e86a0"/><circle cx="460.7" cy="228.5" r="0.55" fill="#8e86a0"/><circle cx="420.4" cy="221.3" r="0.45" fill="#7d7390"/><circle cx="442.5" cy="230.7" r="0.45" fill="#8e86a0"/><circle cx="391.0" cy="230.9" r="0.45" fill="#7d7390"/><circle cx="449.7" cy="254.9" r="0.45" fill="#6f6a80"/><circle cx="464.8" cy="245.5" r="0.45" fill="#7d7390"/><circle cx="389.6" cy="219.2" r="0.35" fill="#7d7390"/><circle cx="377.1" cy="253.2" r="0.35" fill="#a39cb0"/><circle cx="401.4" cy="217.6" r="0.55" fill="#a39cb0"/><circle cx="430.9" cy="226.6" r="0.35" fill="#b7b0bf"/><circle cx="461.5" cy="244.1" r="0.55" fill="#8e86a0"/><circle cx="417.1" cy="255.3" r="0.55" fill="#b7b0bf"/><circle cx="411.3" cy="230.7" r="0.35" fill="#6f6a80"/><circle cx="433.1" cy="213.2" r="0.35" fill="#7d7390"/><circle cx="415.7" cy="215.7" r="0.55" fill="#8e86a0"/><circle cx="385.2" cy="239.5" r="0.55" fill="#8e86a0"/><circle cx="461.4" cy="241.9" r="0.35" fill="#7d7390"/><circle cx="431.3" cy="217.7" r="0.45" fill="#a39cb0"/><circle cx="430.2" cy="234.7" r="0.35" fill="#6f6a80"/><circle cx="465.4" cy="234.2" r="0.45" fill="#a39cb0"/><circle cx="383.7" cy="215.3" r="0.45" fill="#a39cb0"/><circle cx="419.1" cy="246.0" r="0.55" fill="#8e86a0"/><circle cx="394.5" cy="259.5" r="0.45" fill="#7d7390"/><circle cx="438.1" cy="257.5" r="0.55" fill="#a39cb0"/><circle cx="464.1" cy="254.9" r="0.55" fill="#a39cb0"/><circle cx="422.7" cy="257.2" r="0.45" fill="#7d7390"/><circle cx="423.9" cy="250.5" r="0.45" fill="#7d7390"/><circle cx="431.2" cy="251.0" r="0.35" fill="#7d7390"/><circle cx="449.6" cy="248.5" r="0.35" fill="#7d7390"/><circle cx="422.6" cy="228.5" r="0.35" fill="#8e86a0"/><circle cx="447.1" cy="234.6" r="0.35" fill="#b7b0bf"/><circle cx="462.1" cy="233.3" r="0.55" fill="#a39cb0"/><circle cx="462.0" cy="229.0" r="0.35" fill="#8e86a0"/><circle cx="396.4" cy="220.2" r="0.35" fill="#6f6a80"/><circle cx="432.2" cy="256.8" r="0.35" fill="#6f6a80"/><circle cx="457.8" cy="227.9" r="0.55" fill="#8e86a0"/><circle cx="451.1" cy="216.2" r="0.45" fill="#7d7390"/><circle cx="419.0" cy="219.3" r="0.55" fill="#a39cb0"/><circle cx="383.8" cy="259.2" r="0.55" fill="#6f6a80"/><circle cx="417.7" cy="248.7" r="0.35" fill="#7d7390"/><circle cx="391.3" cy="216.6" r="0.35" fill="#b7b0bf"/><circle cx="457.4" cy="251.9" r="0.35" fill="#b7b0bf"/><circle cx="450.4" cy="261.0" r="0.55" fill="#a39cb0"/><circle cx="390.0" cy="238.5" r="0.35" fill="#8e86a0"/><circle cx="447.9" cy="247.8" r="0.35" fill="#b7b0bf"/><circle cx="443.5" cy="217.2" r="0.35" fill="#7d7390"/><circle cx="378.5" cy="221.1" r="0.55" fill="#7d7390"/><circle cx="444.7" cy="227.0" r="0.55" fill="#6f6a80"/><circle cx="451.1" cy="213.2" r="0.55" fill="#a39cb0"/><circle cx="456.8" cy="244.4" r="0.55" fill="#6f6a80"/><circle cx="450.4" cy="255.7" r="0.35" fill="#b7b0bf"/><circle cx="389.7" cy="236.5" r="0.45" fill="#7d7390"/><circle cx="430.8" cy="250.4" r="0.35" fill="#7d7390"/><circle cx="388.7" cy="242.2" r="0.35" fill="#b7b0bf"/><circle cx="381.6" cy="245.5" r="0.55" fill="#b7b0bf"/><circle cx="419.4" cy="250.4" r="0.55" fill="#8e86a0"/><circle cx="398.4" cy="224.4" r="0.35" fill="#b7b0bf"/><circle cx="416.7" cy="211.4" r="0.35" fill="#6f6a80"/><circle cx="405.3" cy="260.6" r="0.55" fill="#b7b0bf"/><circle cx="393.9" cy="224.4" r="0.55" fill="#b7b0bf"/><circle cx="448.7" cy="236.4" r="0.35" fill="#b7b0bf"/><circle cx="454.9" cy="259.0" r="0.45" fill="#b7b0bf"/><circle cx="456.3" cy="220.5" r="0.45" fill="#7d7390"/><circle cx="413.5" cy="230.4" r="0.45" fill="#8e86a0"/><circle cx="436.4" cy="232.3" r="0.35" fill="#a39cb0"/><circle cx="446.6" cy="256.6" r="0.35" fill="#a39cb0"/><circle cx="388.9" cy="255.9" r="0.45" fill="#7d7390"/><circle cx="443.2" cy="214.9" r="0.45" fill="#7d7390"/><circle cx="465.1" cy="253.3" r="0.35" fill="#6f6a80"/><circle cx="465.5" cy="231.0" r="0.45" fill="#7d7390"/><circle cx="408.1" cy="214.8" r="0.45" fill="#8e86a0"/><circle cx="406.4" cy="233.9" r="0.55" fill="#8e86a0"/><circle cx="410.6" cy="236.9" r="0.45" fill="#b7b0bf"/><circle cx="462.5" cy="215.9" r="0.35" fill="#8e86a0"/><circle cx="383.6" cy="224.1" r="0.35" fill="#a39cb0"/><circle cx="444.0" cy="252.6" r="0.55" fill="#a39cb0"/><circle cx="412.5" cy="237.9" r="0.55" fill="#b7b0bf"/><circle cx="420.5" cy="227.0" r="0.45" fill="#8e86a0"/><circle cx="448.0" cy="219.5" r="0.35" fill="#a39cb0"/><circle cx="460.5" cy="243.0" r="0.45" fill="#8e86a0"/><circle cx="430.7" cy="221.6" r="0.45" fill="#8e86a0"/><circle cx="416.8" cy="227.6" r="0.55" fill="#6f6a80"/><circle cx="459.4" cy="223.9" r="0.35" fill="#8e86a0"/><circle cx="423.4" cy="222.4" r="0.35" fill="#7d7390"/><circle cx="399.6" cy="219.4" r="0.45" fill="#a39cb0"/><circle cx="423.8" cy="220.7" r="0.45" fill="#b7b0bf"/><circle cx="436.5" cy="224.1" r="0.35" fill="#a39cb0"/><circle cx="379.3" cy="211.0" r="0.55" fill="#b7b0bf"/><circle cx="464.0" cy="236.7" r="0.35" fill="#6f6a80"/><circle cx="385.6" cy="252.6" r="0.45" fill="#6f6a80"/><circle cx="425.1" cy="256.2" r="0.55" fill="#a39cb0"/><circle cx="437.9" cy="261.1" r="0.45" fill="#7d7390"/><circle cx="450.9" cy="246.7" r="0.55" fill="#7d7390"/><circle cx="412.4" cy="228.1" r="0.35" fill="#7d7390"/><circle cx="377.3" cy="242.5" r="0.45" fill="#6f6a80"/><circle cx="390.7" cy="214.4" r="0.45" fill="#b7b0bf"/><circle cx="436.3" cy="224.7" r="0.35" fill="#a39cb0"/><circle cx="380.1" cy="219.6" r="0.45" fill="#6f6a80"/><circle cx="376.3" cy="228.9" r="0.45" fill="#b7b0bf"/><circle cx="405.1" cy="211.8" r="0.45" fill="#7d7390"/><circle cx="408.1" cy="210.1" r="0.45" fill="#8e86a0"/><circle cx="418.7" cy="236.1" r="0.35" fill="#7d7390"/><circle cx="421.4" cy="210.3" r="0.45" fill="#8e86a0"/><circle cx="388.9" cy="240.5" r="0.45" fill="#8e86a0"/><circle cx="403.0" cy="242.7" r="0.35" fill="#b7b0bf"/><circle cx="462.2" cy="254.4" r="0.35" fill="#b7b0bf"/><circle cx="411.1" cy="227.0" r="0.45" fill="#7d7390"/><circle cx="401.6" cy="242.2" r="0.35" fill="#8e86a0"/><circle cx="450.2" cy="247.2" r="0.55" fill="#6f6a80"/><circle cx="442.0" cy="252.2" r="0.35" fill="#b7b0bf"/><circle cx="443.8" cy="239.6" r="0.35" fill="#b7b0bf"/><circle cx="447.8" cy="247.0" r="0.55" fill="#7d7390"/><circle cx="383.7" cy="212.2" r="0.55" fill="#a39cb0"/><circle cx="462.4" cy="229.6" r="0.45" fill="#b7b0bf"/><circle cx="380.6" cy="211.0" r="0.55" fill="#7d7390"/><circle cx="420.0" cy="210.2" r="0.35" fill="#b7b0bf"/><circle cx="456.8" cy="214.8" r="0.55" fill="#8e86a0"/><circle cx="443.1" cy="234.6" r="0.35" fill="#a39cb0"/><circle cx="397.1" cy="249.3" r="0.35" fill="#6f6a80"/><circle cx="420.5" cy="229.9" r="0.45" fill="#a39cb0"/><circle cx="445.0" cy="242.1" r="0.55" fill="#7d7390"/><circle cx="383.0" cy="217.7" r="0.45" fill="#a39cb0"/><circle cx="431.9" cy="216.9" r="0.45" fill="#8e86a0"/><circle cx="419.7" cy="260.6" r="0.35" fill="#7d7390"/><circle cx="436.8" cy="225.1" r="0.55" fill="#a39cb0"/><circle cx="417.8" cy="234.2" r="0.35" fill="#b7b0bf"/><circle cx="393.9" cy="260.9" r="0.45" fill="#8e86a0"/><circle cx="402.1" cy="214.0" r="0.55" fill="#6f6a80"/><circle cx="465.5" cy="230.1" r="0.35" fill="#8e86a0"/><circle cx="428.3" cy="217.4" r="0.55" fill="#a39cb0"/><circle cx="461.7" cy="216.9" r="0.55" fill="#b7b0bf"/><circle cx="401.2" cy="215.9" r="0.45" fill="#7d7390"/><circle cx="420.8" cy="255.6" r="0.45" fill="#8e86a0"/><circle cx="390.3" cy="259.4" r="0.55" fill="#6f6a80"/><circle cx="412.5" cy="247.8" r="0.45" fill="#a39cb0"/><circle cx="409.8" cy="216.3" r="0.45" fill="#8e86a0"/><circle cx="405.2" cy="227.6" r="0.45" fill="#8e86a0"/><circle cx="460.6" cy="220.2" r="0.35" fill="#a39cb0"/><circle cx="398.8" cy="213.4" r="0.45" fill="#b7b0bf"/><circle cx="382.9" cy="258.1" r="0.45" fill="#8e86a0"/><circle cx="401.3" cy="212.7" r="0.55" fill="#a39cb0"/><circle cx="433.1" cy="217.7" r="0.45" fill="#6f6a80"/><circle cx="422.0" cy="219.9" r="0.45" fill="#6f6a80"/><circle cx="455.6" cy="252.2" r="0.55" fill="#6f6a80"/><circle cx="458.2" cy="258.9" r="0.55" fill="#7d7390"/><circle cx="440.8" cy="212.6" r="0.55" fill="#6f6a80"/><circle cx="416.6" cy="249.1" r="0.55" fill="#a39cb0"/><circle cx="419.7" cy="257.4" r="0.55" fill="#7d7390"/><circle cx="391.4" cy="231.6" r="0.45" fill="#a39cb0"/><circle cx="399.0" cy="248.4" r="0.55" fill="#a39cb0"/><circle cx="412.6" cy="222.4" r="0.45" fill="#b7b0bf"/><circle cx="436.2" cy="216.2" r="0.55" fill="#7d7390"/><circle cx="382.8" cy="236.0" r="0.45" fill="#b7b0bf"/><circle cx="395.8" cy="257.1" r="0.45" fill="#6f6a80"/><circle cx="388.6" cy="220.0" r="0.35" fill="#7d7390"/><circle cx="406.8" cy="214.7" r="0.35" fill="#a39cb0"/><circle cx="399.3" cy="239.6" r="0.35" fill="#6f6a80"/><circle cx="410.5" cy="248.8" r="0.35" fill="#6f6a80"/><circle cx="400.3" cy="249.1" r="0.45" fill="#a39cb0"/><circle cx="427.7" cy="228.7" r="0.55" fill="#b7b0bf"/><circle cx="423.6" cy="251.1" r="0.35" fill="#8e86a0"/><circle cx="400.4" cy="222.9" r="0.45" fill="#6f6a80"/><circle cx="414.9" cy="226.2" r="0.35" fill="#7d7390"/><circle cx="378.9" cy="246.9" r="0.45" fill="#b7b0bf"/><circle cx="420.1" cy="213.8" r="0.55" fill="#6f6a80"/><circle cx="463.5" cy="222.9" r="0.35" fill="#7d7390"/><circle cx="389.9" cy="237.2" r="0.55" fill="#8e86a0"/><circle cx="460.7" cy="247.5" r="0.55" fill="#6f6a80"/><circle cx="383.7" cy="250.4" r="0.35" fill="#7d7390"/><circle cx="396.9" cy="257.8" r="0.55" fill="#a39cb0"/><circle cx="462.6" cy="242.6" r="0.55" fill="#6f6a80"/><circle cx="438.9" cy="215.8" r="0.35" fill="#a39cb0"/><circle cx="423.2" cy="240.3" r="0.45" fill="#a39cb0"/><circle cx="396.1" cy="241.3" r="0.35" fill="#b7b0bf"/><circle cx="403.1" cy="234.0" r="0.45" fill="#7d7390"/><circle cx="418.8" cy="222.2" r="0.35" fill="#8e86a0"/><circle cx="462.5" cy="246.6" r="0.45" fill="#8e86a0"/><circle cx="378.0" cy="235.9" r="0.55" fill="#6f6a80"/><circle cx="383.3" cy="221.8" r="0.45" fill="#a39cb0"/><circle cx="396.4" cy="211.8" r="0.45" fill="#6f6a80"/><circle cx="408.6" cy="230.6" r="0.35" fill="#a39cb0"/><circle cx="442.5" cy="236.3" r="0.35" fill="#6f6a80"/><circle cx="463.3" cy="226.2" r="0.35" fill="#7d7390"/><circle cx="417.9" cy="223.8" r="0.45" fill="#8e86a0"/><circle cx="461.7" cy="235.8" r="0.35" fill="#7d7390"/><circle cx="419.7" cy="257.3" r="0.35" fill="#b7b0bf"/><circle cx="389.2" cy="230.5" r="0.35" fill="#8e86a0"/><circle cx="463.7" cy="217.4" r="0.35" fill="#8e86a0"/><circle cx="392.6" cy="233.4" r="0.55" fill="#a39cb0"/><circle cx="441.9" cy="261.9" r="0.35" fill="#a39cb0"/><circle cx="393.2" cy="243.9" r="0.55" fill="#6f6a80"/><circle cx="378.9" cy="244.6" r="0.45" fill="#a39cb0"/><circle cx="464.6" cy="233.0" r="0.35" fill="#8e86a0"/><circle cx="383.0" cy="214.2" r="0.45" fill="#8e86a0"/><circle cx="426.5" cy="249.5" r="0.45" fill="#a39cb0"/><circle cx="445.2" cy="226.1" r="0.45" fill="#8e86a0"/><circle cx="380.4" cy="234.6" r="0.45" fill="#b7b0bf"/><circle cx="458.8" cy="220.0" r="0.45" fill="#6f6a80"/><circle cx="378.7" cy="231.4" r="0.55" fill="#6f6a80"/><circle cx="379.7" cy="211.8" r="0.35" fill="#8e86a0"/><circle cx="399.1" cy="248.9" r="0.55" fill="#a39cb0"/><circle cx="408.7" cy="227.4" r="0.55" fill="#8e86a0"/><circle cx="399.6" cy="247.3" r="0.45" fill="#a39cb0"/><circle cx="402.8" cy="247.5" r="0.55" fill="#8e86a0"/><circle cx="378.2" cy="222.2" r="0.45" fill="#6f6a80"/><circle cx="461.9" cy="230.1" r="0.45" fill="#6f6a80"/><circle cx="449.3" cy="216.9" r="0.45" fill="#7d7390"/><circle cx="376.8" cy="258.4" r="0.45" fill="#7d7390"/><circle cx="430.7" cy="227.0" r="0.45" fill="#6f6a80"/><circle cx="408.6" cy="250.7" r="0.35" fill="#b7b0bf"/><circle cx="393.8" cy="249.2" r="0.35" fill="#6f6a80"/><circle cx="381.8" cy="211.8" r="0.55" fill="#b7b0bf"/><circle cx="405.3" cy="261.0" r="0.35" fill="#8e86a0"/><circle cx="399.8" cy="214.4" r="0.35" fill="#6f6a80"/><circle cx="420.9" cy="246.9" r="0.45" fill="#7d7390"/><circle cx="397.1" cy="231.7" r="0.55" fill="#7d7390"/><circle cx="443.3" cy="254.0" r="0.55" fill="#8e86a0"/><circle cx="446.2" cy="225.3" r="0.45" fill="#b7b0bf"/><circle cx="400.1" cy="223.2" r="0.45" fill="#7d7390"/><circle cx="415.5" cy="219.7" r="0.35" fill="#7d7390"/><circle cx="401.3" cy="257.2" r="0.35" fill="#a39cb0"/><circle cx="381.8" cy="223.1" r="0.35" fill="#b7b0bf"/><circle cx="423.4" cy="243.8" r="0.35" fill="#6f6a80"/><circle cx="465.2" cy="215.3" r="0.45" fill="#7d7390"/><circle cx="451.7" cy="257.5" r="0.35" fill="#a39cb0"/><circle cx="397.0" cy="212.6" r="0.55" fill="#b7b0bf"/><circle cx="393.5" cy="213.9" r="0.55" fill="#7d7390"/><circle cx="416.4" cy="223.5" r="0.55" fill="#8e86a0"/><circle cx="385.5" cy="241.0" r="0.55" fill="#a39cb0"/><circle cx="395.6" cy="229.2" r="0.35" fill="#8e86a0"/><circle cx="394.4" cy="223.3" r="0.55" fill="#7d7390"/><circle cx="449.3" cy="252.6" r="0.45" fill="#a39cb0"/><circle cx="392.7" cy="226.2" r="0.35" fill="#8e86a0"/><circle cx="447.6" cy="238.5" r="0.35" fill="#6f6a80"/><circle cx="385.1" cy="230.6" r="0.55" fill="#7d7390"/><circle cx="433.5" cy="214.7" r="0.35" fill="#6f6a80"/><circle cx="438.6" cy="231.3" r="0.45" fill="#a39cb0"/><circle cx="413.6" cy="212.7" r="0.55" fill="#b7b0bf"/><circle cx="455.5" cy="231.5" r="0.35" fill="#a39cb0"/><circle cx="434.0" cy="230.3" r="0.45" fill="#7d7390"/><circle cx="460.8" cy="232.6" r="0.35" fill="#6f6a80"/><circle cx="386.2" cy="214.7" r="0.55" fill="#a39cb0"/><circle cx="417.5" cy="218.5" r="0.35" fill="#8e86a0"/><circle cx="425.6" cy="243.3" r="0.45" fill="#8e86a0"/><circle cx="427.6" cy="258.2" r="0.55" fill="#b7b0bf"/><circle cx="391.5" cy="228.1" r="0.35" fill="#b7b0bf"/><circle cx="391.5" cy="213.5" r="0.45" fill="#6f6a80"/><circle cx="443.8" cy="251.2" r="0.35" fill="#a39cb0"/><circle cx="387.4" cy="259.0" r="0.45" fill="#a39cb0"/><circle cx="380.8" cy="258.2" r="0.45" fill="#8e86a0"/><circle cx="457.4" cy="242.3" r="0.35" fill="#7d7390"/><circle cx="431.9" cy="242.0" r="0.35" fill="#6f6a80"/><circle cx="392.5" cy="221.3" r="0.45" fill="#b7b0bf"/><circle cx="390.1" cy="228.7" r="0.35" fill="#7d7390"/><circle cx="463.4" cy="252.4" r="0.35" fill="#8e86a0"/><circle cx="455.5" cy="253.8" r="0.55" fill="#8e86a0"/><circle cx="436.1" cy="226.9" r="0.45" fill="#b7b0bf"/><circle cx="417.0" cy="254.1" r="0.45" fill="#6f6a80"/><circle cx="403.7" cy="223.0" r="0.45" fill="#a39cb0"/><circle cx="416.2" cy="232.8" r="0.35" fill="#8e86a0"/><circle cx="431.7" cy="235.5" r="0.35" fill="#6f6a80"/><circle cx="444.7" cy="250.6" r="0.45" fill="#7d7390"/><circle cx="448.9" cy="230.8" r="0.35" fill="#7d7390"/><circle cx="408.3" cy="229.0" r="0.45" fill="#b7b0bf"/><circle cx="421.9" cy="212.1" r="0.55" fill="#7d7390"/><circle cx="383.4" cy="248.1" r="0.55" fill="#b7b0bf"/><circle cx="383.2" cy="249.1" r="0.45" fill="#7d7390"/><circle cx="378.3" cy="213.5" r="0.55" fill="#8e86a0"/><circle cx="393.4" cy="261.0" r="0.45" fill="#a39cb0"/><circle cx="462.1" cy="257.6" r="0.35" fill="#7d7390"/><circle cx="381.9" cy="228.2" r="0.45" fill="#7d7390"/><circle cx="405.1" cy="241.9" r="0.45" fill="#7d7390"/><circle cx="398.9" cy="260.1" r="0.45" fill="#7d7390"/><circle cx="429.3" cy="242.0" r="0.35" fill="#a39cb0"/><circle cx="409.5" cy="220.3" r="0.45" fill="#7d7390"/><circle cx="433.3" cy="224.5" r="0.45" fill="#6f6a80"/><circle cx="391.2" cy="250.8" r="0.35" fill="#b7b0bf"/><circle cx="380.4" cy="254.6" r="0.45" fill="#b7b0bf"/><circle cx="422.9" cy="245.8" r="0.35" fill="#a39cb0"/><circle cx="465.4" cy="242.7" r="0.45" fill="#a39cb0"/><circle cx="399.8" cy="261.5" r="0.55" fill="#7d7390"/><circle cx="408.4" cy="249.8" r="0.45" fill="#7d7390"/><circle cx="391.9" cy="248.7" r="0.35" fill="#a39cb0"/><circle cx="449.8" cy="223.2" r="0.55" fill="#b7b0bf"/><circle cx="459.6" cy="256.6" r="0.55" fill="#8e86a0"/><circle cx="443.2" cy="221.5" r="0.45" fill="#b7b0bf"/><circle cx="432.3" cy="231.7" r="0.45" fill="#8e86a0"/><circle cx="387.9" cy="221.8" r="0.55" fill="#8e86a0"/><circle cx="378.0" cy="210.1" r="0.45" fill="#a39cb0"/><circle cx="385.6" cy="228.6" r="0.35" fill="#6f6a80"/><circle cx="428.5" cy="240.6" r="0.35" fill="#a39cb0"/><circle cx="432.2" cy="234.7" r="0.35" fill="#8e86a0"/><circle cx="460.3" cy="222.7" r="0.35" fill="#6f6a80"/><circle cx="384.6" cy="243.2" r="0.55" fill="#a39cb0"/><circle cx="412.2" cy="223.7" r="0.35" fill="#8e86a0"/><circle cx="434.0" cy="239.2" r="0.45" fill="#b7b0bf"/><circle cx="434.1" cy="233.1" r="0.55" fill="#6f6a80"/><circle cx="398.4" cy="257.0" r="0.35" fill="#8e86a0"/><circle cx="423.8" cy="231.1" r="0.35" fill="#7d7390"/><circle cx="381.3" cy="250.5" r="0.35" fill="#b7b0bf"/><circle cx="425.6" cy="258.9" r="0.35" fill="#6f6a80"/><circle cx="394.0" cy="241.6" r="0.55" fill="#6f6a80"/><circle cx="449.2" cy="219.1" r="0.45" fill="#8e86a0"/><circle cx="403.0" cy="212.5" r="0.55" fill="#6f6a80"/><circle cx="440.4" cy="210.3" r="0.45" fill="#6f6a80"/><circle cx="383.2" cy="244.1" r="0.35" fill="#7d7390"/><circle cx="465.7" cy="223.6" r="0.55" fill="#8e86a0"/><circle cx="387.1" cy="256.3" r="0.55" fill="#a39cb0"/><circle cx="440.1" cy="223.8" r="0.55" fill="#6f6a80"/><circle cx="437.7" cy="257.7" r="0.45" fill="#a39cb0"/><circle cx="433.8" cy="260.2" r="0.35" fill="#8e86a0"/><circle cx="455.2" cy="210.8" r="0.45" fill="#7d7390"/><circle cx="451.8" cy="220.5" r="0.35" fill="#a39cb0"/><circle cx="393.3" cy="230.2" r="0.55" fill="#7d7390"/><circle cx="410.2" cy="254.3" r="0.55" fill="#b7b0bf"/><circle cx="418.3" cy="253.7" r="0.55" fill="#8e86a0"/><circle cx="453.2" cy="232.7" r="0.55" fill="#7d7390"/><circle cx="427.3" cy="226.0" r="0.35" fill="#6f6a80"/><circle cx="432.0" cy="214.0" r="0.35" fill="#7d7390"/><circle cx="379.0" cy="215.8" r="0.55" fill="#7d7390"/><circle cx="407.0" cy="217.4" r="0.35" fill="#8e86a0"/><circle cx="379.7" cy="246.0" r="0.55" fill="#8e86a0"/><circle cx="438.7" cy="248.3" r="0.35" fill="#b7b0bf"/><circle cx="444.6" cy="220.4" r="0.55" fill="#8e86a0"/><circle cx="455.2" cy="249.3" r="0.55" fill="#6f6a80"/><circle cx="385.6" cy="220.7" r="0.35" fill="#8e86a0"/><circle cx="379.1" cy="254.1" r="0.55" fill="#8e86a0"/><circle cx="450.3" cy="242.8" r="0.45" fill="#6f6a80"/><circle cx="385.0" cy="215.1" r="0.55" fill="#7d7390"/><circle cx="402.5" cy="227.5" r="0.45" fill="#8e86a0"/><circle cx="407.6" cy="258.4" r="0.35" fill="#a39cb0"/><circle cx="457.9" cy="250.0" r="0.55" fill="#b7b0bf"/><circle cx="418.8" cy="225.0" r="0.55" fill="#8e86a0"/><circle cx="447.0" cy="211.6" r="0.55" fill="#8e86a0"/><circle cx="407.2" cy="246.6" r="0.55" fill="#b7b0bf"/><circle cx="395.5" cy="254.8" r="0.35" fill="#b7b0bf"/><circle cx="449.8" cy="218.9" r="0.35" fill="#b7b0bf"/><circle cx="394.2" cy="249.6" r="0.35" fill="#8e86a0"/><circle cx="407.3" cy="215.0" r="0.55" fill="#7d7390"/><circle cx="463.0" cy="240.8" r="0.55" fill="#a39cb0"/><circle cx="428.0" cy="218.3" r="0.35" fill="#7d7390"/><circle cx="420.8" cy="215.7" r="0.55" fill="#8e86a0"/><circle cx="420.1" cy="261.5" r="0.55" fill="#8e86a0"/><circle cx="432.5" cy="228.5" r="0.45" fill="#6f6a80"/><circle cx="456.3" cy="248.8" r="0.45" fill="#8e86a0"/><circle cx="409.5" cy="225.8" r="0.45" fill="#b7b0bf"/><circle cx="421.1" cy="229.7" r="0.55" fill="#7d7390"/><circle cx="461.0" cy="216.6" r="0.55" fill="#b7b0bf"/><circle cx="434.2" cy="228.1" r="0.45" fill="#b7b0bf"/><circle cx="390.0" cy="253.8" r="0.55" fill="#b7b0bf"/><circle cx="442.8" cy="218.8" r="0.45" fill="#a39cb0"/><circle cx="428.1" cy="216.6" r="0.45" fill="#7d7390"/><circle cx="421.7" cy="223.9" r="0.55" fill="#b7b0bf"/><circle cx="389.9" cy="218.1" r="0.35" fill="#a39cb0"/><circle cx="430.3" cy="228.1" r="0.35" fill="#a39cb0"/><circle cx="462.0" cy="223.5" r="0.55" fill="#8e86a0"/><circle cx="390.8" cy="244.2" r="0.35" fill="#6f6a80"/><circle cx="389.6" cy="217.7" r="0.45" fill="#a39cb0"/><circle cx="415.1" cy="220.2" r="0.55" fill="#8e86a0"/><circle cx="401.3" cy="256.0" r="0.45" fill="#8e86a0"/><circle cx="377.1" cy="254.4" r="0.45" fill="#7d7390"/><circle cx="421.0" cy="242.9" r="0.45" fill="#8e86a0"/><circle cx="388.8" cy="241.4" r="0.45" fill="#8e86a0"/><circle cx="442.7" cy="257.2" r="0.45" fill="#b7b0bf"/><circle cx="428.9" cy="243.7" r="0.35" fill="#b7b0bf"/><circle cx="452.7" cy="245.3" r="0.55" fill="#8e86a0"/><circle cx="416.9" cy="226.3" r="0.55" fill="#8e86a0"/><circle cx="456.5" cy="222.6" r="0.45" fill="#7d7390"/><circle cx="398.5" cy="232.0" r="0.45" fill="#8e86a0"/><circle cx="431.9" cy="231.3" r="0.55" fill="#7d7390"/><circle cx="456.5" cy="227.1" r="0.35" fill="#6f6a80"/><circle cx="450.9" cy="257.2" r="0.35" fill="#8e86a0"/><circle cx="398.6" cy="221.3" r="0.55" fill="#7d7390"/><circle cx="422.7" cy="215.3" r="0.55" fill="#6f6a80"/><circle cx="424.7" cy="247.3" r="0.55" fill="#8e86a0"/><circle cx="433.5" cy="253.1" r="0.55" fill="#a39cb0"/><circle cx="412.9" cy="259.3" r="0.35" fill="#7d7390"/><circle cx="411.3" cy="249.7" r="0.35" fill="#b7b0bf"/><circle cx="408.0" cy="212.9" r="0.45" fill="#6f6a80"/><circle cx="412.0" cy="210.7" r="0.45" fill="#6f6a80"/><circle cx="432.6" cy="245.1" r="0.55" fill="#a39cb0"/><circle cx="385.8" cy="225.8" r="0.45" fill="#b7b0bf"/><circle cx="463.4" cy="261.7" r="0.45" fill="#6f6a80"/><circle cx="395.1" cy="216.7" r="0.35" fill="#7d7390"/><circle cx="418.2" cy="239.2" r="0.35" fill="#7d7390"/><circle cx="407.8" cy="243.2" r="0.45" fill="#6f6a80"/><circle cx="465.7" cy="249.5" r="0.55" fill="#7d7390"/><circle cx="446.2" cy="234.4" r="0.35" fill="#a39cb0"/><circle cx="439.4" cy="245.7" r="0.45" fill="#7d7390"/><circle cx="419.3" cy="251.9" r="0.45" fill="#a39cb0"/><circle cx="398.0" cy="225.7" r="0.45" fill="#6f6a80"/><circle cx="414.6" cy="243.1" r="0.55" fill="#a39cb0"/><circle cx="389.7" cy="225.8" r="0.45" fill="#8e86a0"/><circle cx="383.7" cy="239.4" r="0.45" fill="#7d7390"/><circle cx="423.8" cy="227.9" r="0.55" fill="#8e86a0"/><circle cx="435.2" cy="220.9" r="0.35" fill="#a39cb0"/></g>
<ellipse cx="420.5" cy="228.3" rx="15.5" ry="11.2" fill="#ece8ee" opacity="0.6"/>
<path d="M407,228 C407,221 413,217.5 420,217.6 C428,217.7 434.5,221.5 434.2,228 C434,234 428,237.8 420,237.6 C412.5,237.5 407,234 407,228 Z" fill="url(#blob1)"/>
<ellipse cx="413.5" cy="233.8" rx="5" ry="2.6" fill="#2e6a4a" opacity="0.55"/>
<ellipse cx="424" cy="223.5" rx="4.5" ry="2.8" fill="#6a3396" opacity="0.45"/>
<line x1="381" y1="258.6" x2="389.5" y2="258.6" stroke="#a8a8a8" stroke-width="0.9"/>
<polygon points="381.1,313 394.7,316.7 407.1,320.4 417,324.1 425,327.8 434.4,334 444.9,341.4 444.4,346 434.4,340.6 425,334 407.1,325.8 394.7,322 382.2,315.5" fill="#4a2256"/>
<ellipse cx="426.5" cy="293.8" rx="11.5" ry="5.5" fill="url(#blob2)"/>
<ellipse cx="427" cy="294.5" rx="7" ry="3.5" fill="#4e2468" opacity="0.8"/>
<polygon points="379.3,311.1 394.7,304.3 407.1,300 417,298.1 425,297.5 434.4,298.7 446.7,299.4 459.1,300 466.5,300.6 466.5,301.2 462.8,305.5 457.8,311.7 452.9,319.1 448,327.8 445.5,336.4 444.9,341.4 434.4,334 425,327.8 417,324.1 407.1,320.4 394.7,316.7 381.1,313" fill="url(#gs2)"/>
<clipPath id="cp2"><polygon points="379.3,311.1 394.7,304.3 407.1,300 417,298.1 425,297.5 434.4,298.7 446.7,299.4 459.1,300 466.5,300.6 466.5,301.2 462.8,305.5 457.8,311.7 452.9,319.1 448,327.8 445.5,336.4 444.9,341.4 434.4,334 425,327.8 417,324.1 407.1,320.4 394.7,316.7 381.1,313"/></clipPath>
<g clip-path="url(#cp2)" opacity="0.75"><line x1="401.0" y1="301.6" x2="402.6" y2="302.1" stroke="#8a8298" stroke-width="0.5"/><line x1="454.2" y1="305.4" x2="455.8" y2="305.9" stroke="#7c748a" stroke-width="0.5"/><line x1="409.5" y1="303.9" x2="411.1" y2="304.4" stroke="#7c748a" stroke-width="0.5"/><line x1="448.7" y1="304.6" x2="450.3" y2="305.1" stroke="#9a92a6" stroke-width="0.5"/><line x1="437.8" y1="337.2" x2="439.4" y2="337.7" stroke="#b2aabb" stroke-width="0.5"/><line x1="396.4" y1="328.2" x2="398.0" y2="328.7" stroke="#9a92a6" stroke-width="0.5"/><line x1="444.3" y1="316.7" x2="445.9" y2="317.2" stroke="#9a92a6" stroke-width="0.5"/><line x1="427.8" y1="308.9" x2="429.4" y2="309.4" stroke="#8a8298" stroke-width="0.5"/><line x1="451.8" y1="318.3" x2="453.4" y2="318.8" stroke="#9a92a6" stroke-width="0.5"/><line x1="421.6" y1="337.7" x2="423.2" y2="338.2" stroke="#7c748a" stroke-width="0.5"/><line x1="400.7" y1="304.4" x2="402.3" y2="304.9" stroke="#9a92a6" stroke-width="0.5"/><line x1="393.1" y1="311.4" x2="394.7" y2="311.9" stroke="#7c748a" stroke-width="0.5"/><line x1="437.5" y1="334.8" x2="439.1" y2="335.3" stroke="#b2aabb" stroke-width="0.5"/><line x1="416.5" y1="342.0" x2="418.1" y2="342.5" stroke="#9a92a6" stroke-width="0.5"/><line x1="394.9" y1="313.2" x2="396.5" y2="313.7" stroke="#9a92a6" stroke-width="0.5"/><line x1="380.8" y1="299.1" x2="382.4" y2="299.6" stroke="#b2aabb" stroke-width="0.5"/><line x1="450.2" y1="301.2" x2="451.8" y2="301.7" stroke="#7c748a" stroke-width="0.5"/><line x1="421.7" y1="337.4" x2="423.3" y2="337.9" stroke="#9a92a6" stroke-width="0.5"/><line x1="397.8" y1="315.7" x2="399.4" y2="316.2" stroke="#8a8298" stroke-width="0.5"/><line x1="408.8" y1="335.8" x2="410.4" y2="336.3" stroke="#b2aabb" stroke-width="0.5"/><line x1="409.0" y1="332.0" x2="410.6" y2="332.5" stroke="#8a8298" stroke-width="0.5"/><line x1="404.0" y1="312.4" x2="405.6" y2="312.9" stroke="#b2aabb" stroke-width="0.5"/><line x1="427.8" y1="334.2" x2="429.4" y2="334.7" stroke="#b2aabb" stroke-width="0.5"/><line x1="410.3" y1="319.2" x2="411.9" y2="319.7" stroke="#b2aabb" stroke-width="0.5"/><line x1="423.3" y1="309.2" x2="424.9" y2="309.7" stroke="#b2aabb" stroke-width="0.5"/><line x1="464.8" y1="326.5" x2="466.4" y2="327.0" stroke="#9a92a6" stroke-width="0.5"/><line x1="408.1" y1="311.3" x2="409.7" y2="311.8" stroke="#b2aabb" stroke-width="0.5"/><line x1="390.2" y1="340.8" x2="391.8" y2="341.3" stroke="#9a92a6" stroke-width="0.5"/><line x1="448.0" y1="298.8" x2="449.6" y2="299.3" stroke="#7c748a" stroke-width="0.5"/><line x1="427.0" y1="299.2" x2="428.6" y2="299.7" stroke="#b2aabb" stroke-width="0.5"/><line x1="388.5" y1="299.1" x2="390.1" y2="299.6" stroke="#7c748a" stroke-width="0.5"/><line x1="432.6" y1="326.6" x2="434.2" y2="327.1" stroke="#7c748a" stroke-width="0.5"/><line x1="433.3" y1="325.2" x2="434.9" y2="325.7" stroke="#9a92a6" stroke-width="0.5"/><line x1="397.7" y1="327.0" x2="399.3" y2="327.5" stroke="#7c748a" stroke-width="0.5"/><line x1="434.0" y1="304.8" x2="435.6" y2="305.3" stroke="#8a8298" stroke-width="0.5"/><line x1="455.5" y1="316.0" x2="457.1" y2="316.5" stroke="#9a92a6" stroke-width="0.5"/><line x1="459.4" y1="326.5" x2="461.0" y2="327.0" stroke="#b2aabb" stroke-width="0.5"/><line x1="455.7" y1="303.2" x2="457.3" y2="303.7" stroke="#b2aabb" stroke-width="0.5"/><line x1="428.5" y1="308.6" x2="430.1" y2="309.1" stroke="#b2aabb" stroke-width="0.5"/><line x1="395.3" y1="298.5" x2="396.9" y2="299.0" stroke="#9a92a6" stroke-width="0.5"/><line x1="416.9" y1="325.9" x2="418.5" y2="326.4" stroke="#9a92a6" stroke-width="0.5"/><line x1="422.8" y1="320.5" x2="424.4" y2="321.0" stroke="#9a92a6" stroke-width="0.5"/><line x1="447.1" y1="315.9" x2="448.7" y2="316.4" stroke="#7c748a" stroke-width="0.5"/><line x1="418.3" y1="297.6" x2="419.9" y2="298.1" stroke="#7c748a" stroke-width="0.5"/><line x1="431.3" y1="341.7" x2="432.9" y2="342.2" stroke="#8a8298" stroke-width="0.5"/><line x1="420.8" y1="315.6" x2="422.4" y2="316.1" stroke="#9a92a6" stroke-width="0.5"/><line x1="386.3" y1="318.2" x2="387.9" y2="318.7" stroke="#8a8298" stroke-width="0.5"/><line x1="434.2" y1="316.2" x2="435.8" y2="316.7" stroke="#9a92a6" stroke-width="0.5"/><line x1="439.2" y1="302.5" x2="440.8" y2="303.0" stroke="#9a92a6" stroke-width="0.5"/><line x1="398.2" y1="302.5" x2="399.8" y2="303.0" stroke="#7c748a" stroke-width="0.5"/><line x1="380.6" y1="329.4" x2="382.2" y2="329.9" stroke="#8a8298" stroke-width="0.5"/><line x1="418.7" y1="330.5" x2="420.3" y2="331.0" stroke="#9a92a6" stroke-width="0.5"/><line x1="411.2" y1="330.6" x2="412.8" y2="331.1" stroke="#8a8298" stroke-width="0.5"/><line x1="443.2" y1="300.8" x2="444.8" y2="301.3" stroke="#7c748a" stroke-width="0.5"/><line x1="419.5" y1="339.0" x2="421.1" y2="339.5" stroke="#b2aabb" stroke-width="0.5"/><line x1="459.4" y1="299.4" x2="461.0" y2="299.9" stroke="#9a92a6" stroke-width="0.5"/><line x1="380.0" y1="297.7" x2="381.6" y2="298.2" stroke="#9a92a6" stroke-width="0.5"/><line x1="413.2" y1="311.1" x2="414.8" y2="311.6" stroke="#8a8298" stroke-width="0.5"/><line x1="463.3" y1="334.6" x2="464.9" y2="335.1" stroke="#9a92a6" stroke-width="0.5"/><line x1="406.8" y1="339.7" x2="408.4" y2="340.2" stroke="#7c748a" stroke-width="0.5"/><line x1="420.3" y1="304.5" x2="421.9" y2="305.0" stroke="#9a92a6" stroke-width="0.5"/><line x1="411.0" y1="326.0" x2="412.6" y2="326.5" stroke="#7c748a" stroke-width="0.5"/><line x1="421.0" y1="332.0" x2="422.6" y2="332.5" stroke="#7c748a" stroke-width="0.5"/><line x1="462.2" y1="332.3" x2="463.8" y2="332.8" stroke="#b2aabb" stroke-width="0.5"/><line x1="404.7" y1="299.7" x2="406.3" y2="300.2" stroke="#b2aabb" stroke-width="0.5"/><line x1="455.5" y1="329.7" x2="457.1" y2="330.2" stroke="#9a92a6" stroke-width="0.5"/><line x1="452.2" y1="324.1" x2="453.8" y2="324.6" stroke="#b2aabb" stroke-width="0.5"/><line x1="430.5" y1="340.9" x2="432.1" y2="341.4" stroke="#8a8298" stroke-width="0.5"/><line x1="412.1" y1="327.8" x2="413.7" y2="328.3" stroke="#8a8298" stroke-width="0.5"/><line x1="450.1" y1="309.7" x2="451.7" y2="310.2" stroke="#9a92a6" stroke-width="0.5"/><line x1="407.3" y1="309.1" x2="408.9" y2="309.6" stroke="#8a8298" stroke-width="0.5"/><line x1="430.6" y1="333.7" x2="432.2" y2="334.2" stroke="#9a92a6" stroke-width="0.5"/><line x1="404.4" y1="303.3" x2="406.0" y2="303.8" stroke="#8a8298" stroke-width="0.5"/><line x1="403.1" y1="335.3" x2="404.7" y2="335.8" stroke="#7c748a" stroke-width="0.5"/><line x1="409.5" y1="300.8" x2="411.1" y2="301.3" stroke="#7c748a" stroke-width="0.5"/><line x1="449.2" y1="306.0" x2="450.8" y2="306.5" stroke="#8a8298" stroke-width="0.5"/><line x1="406.2" y1="299.6" x2="407.8" y2="300.1" stroke="#7c748a" stroke-width="0.5"/><line x1="419.9" y1="306.3" x2="421.5" y2="306.8" stroke="#b2aabb" stroke-width="0.5"/><line x1="430.6" y1="297.4" x2="432.2" y2="297.9" stroke="#7c748a" stroke-width="0.5"/><line x1="419.5" y1="300.9" x2="421.1" y2="301.4" stroke="#b2aabb" stroke-width="0.5"/><line x1="447.0" y1="307.5" x2="448.6" y2="308.0" stroke="#b2aabb" stroke-width="0.5"/><line x1="456.9" y1="320.5" x2="458.5" y2="321.0" stroke="#7c748a" stroke-width="0.5"/><line x1="423.5" y1="306.1" x2="425.1" y2="306.6" stroke="#8a8298" stroke-width="0.5"/><line x1="395.9" y1="305.1" x2="397.5" y2="305.6" stroke="#b2aabb" stroke-width="0.5"/><line x1="410.9" y1="322.4" x2="412.5" y2="322.9" stroke="#7c748a" stroke-width="0.5"/><line x1="447.6" y1="335.6" x2="449.2" y2="336.1" stroke="#8a8298" stroke-width="0.5"/><line x1="382.9" y1="341.9" x2="384.5" y2="342.4" stroke="#b2aabb" stroke-width="0.5"/><line x1="455.2" y1="313.7" x2="456.8" y2="314.2" stroke="#7c748a" stroke-width="0.5"/><line x1="448.3" y1="304.0" x2="449.9" y2="304.5" stroke="#9a92a6" stroke-width="0.5"/><line x1="409.4" y1="320.4" x2="411.0" y2="320.9" stroke="#9a92a6" stroke-width="0.5"/><line x1="387.3" y1="306.2" x2="388.9" y2="306.7" stroke="#7c748a" stroke-width="0.5"/><line x1="430.6" y1="306.6" x2="432.2" y2="307.1" stroke="#b2aabb" stroke-width="0.5"/><line x1="416.5" y1="339.6" x2="418.1" y2="340.1" stroke="#8a8298" stroke-width="0.5"/><line x1="401.4" y1="298.7" x2="403.0" y2="299.2" stroke="#8a8298" stroke-width="0.5"/><line x1="466.5" y1="314.0" x2="468.1" y2="314.5" stroke="#9a92a6" stroke-width="0.5"/><line x1="383.5" y1="322.1" x2="385.1" y2="322.6" stroke="#7c748a" stroke-width="0.5"/><line x1="421.8" y1="335.1" x2="423.4" y2="335.6" stroke="#9a92a6" stroke-width="0.5"/><line x1="454.9" y1="325.8" x2="456.5" y2="326.3" stroke="#9a92a6" stroke-width="0.5"/><line x1="441.2" y1="301.0" x2="442.8" y2="301.5" stroke="#b2aabb" stroke-width="0.5"/><line x1="428.7" y1="325.8" x2="430.3" y2="326.3" stroke="#7c748a" stroke-width="0.5"/><line x1="395.1" y1="335.2" x2="396.7" y2="335.7" stroke="#b2aabb" stroke-width="0.5"/><line x1="464.0" y1="341.6" x2="465.6" y2="342.1" stroke="#8a8298" stroke-width="0.5"/><line x1="394.1" y1="339.4" x2="395.7" y2="339.9" stroke="#b2aabb" stroke-width="0.5"/><line x1="384.2" y1="321.9" x2="385.8" y2="322.4" stroke="#9a92a6" stroke-width="0.5"/><line x1="452.7" y1="299.1" x2="454.3" y2="299.6" stroke="#7c748a" stroke-width="0.5"/><line x1="383.9" y1="303.5" x2="385.5" y2="304.0" stroke="#9a92a6" stroke-width="0.5"/><line x1="461.7" y1="327.5" x2="463.3" y2="328.0" stroke="#b2aabb" stroke-width="0.5"/><line x1="430.9" y1="316.9" x2="432.5" y2="317.4" stroke="#9a92a6" stroke-width="0.5"/><line x1="420.4" y1="313.7" x2="422.0" y2="314.2" stroke="#7c748a" stroke-width="0.5"/><line x1="389.9" y1="318.7" x2="391.5" y2="319.2" stroke="#8a8298" stroke-width="0.5"/><line x1="417.8" y1="333.3" x2="419.4" y2="333.8" stroke="#9a92a6" stroke-width="0.5"/><line x1="420.2" y1="338.1" x2="421.8" y2="338.6" stroke="#9a92a6" stroke-width="0.5"/><line x1="392.8" y1="334.5" x2="394.4" y2="335.0" stroke="#9a92a6" stroke-width="0.5"/><line x1="461.2" y1="336.0" x2="462.8" y2="336.5" stroke="#8a8298" stroke-width="0.5"/><line x1="447.5" y1="340.1" x2="449.1" y2="340.6" stroke="#7c748a" stroke-width="0.5"/><line x1="453.1" y1="325.3" x2="454.7" y2="325.8" stroke="#7c748a" stroke-width="0.5"/><line x1="464.6" y1="311.5" x2="466.2" y2="312.0" stroke="#8a8298" stroke-width="0.5"/><line x1="421.0" y1="325.3" x2="422.6" y2="325.8" stroke="#8a8298" stroke-width="0.5"/><line x1="408.2" y1="330.1" x2="409.8" y2="330.6" stroke="#8a8298" stroke-width="0.5"/><line x1="441.8" y1="321.9" x2="443.4" y2="322.4" stroke="#8a8298" stroke-width="0.5"/><line x1="417.6" y1="303.7" x2="419.2" y2="304.2" stroke="#7c748a" stroke-width="0.5"/><line x1="415.2" y1="304.0" x2="416.8" y2="304.5" stroke="#b2aabb" stroke-width="0.5"/><line x1="429.2" y1="310.3" x2="430.8" y2="310.8" stroke="#8a8298" stroke-width="0.5"/><line x1="401.9" y1="301.9" x2="403.5" y2="302.4" stroke="#7c748a" stroke-width="0.5"/><line x1="458.5" y1="302.1" x2="460.1" y2="302.6" stroke="#9a92a6" stroke-width="0.5"/><line x1="434.5" y1="332.4" x2="436.1" y2="332.9" stroke="#8a8298" stroke-width="0.5"/><line x1="428.3" y1="334.6" x2="429.9" y2="335.1" stroke="#9a92a6" stroke-width="0.5"/><line x1="401.7" y1="306.1" x2="403.3" y2="306.6" stroke="#b2aabb" stroke-width="0.5"/><line x1="417.0" y1="308.8" x2="418.6" y2="309.3" stroke="#8a8298" stroke-width="0.5"/><line x1="460.4" y1="301.4" x2="462.0" y2="301.9" stroke="#b2aabb" stroke-width="0.5"/><line x1="415.6" y1="304.3" x2="417.2" y2="304.8" stroke="#b2aabb" stroke-width="0.5"/><line x1="391.7" y1="325.8" x2="393.3" y2="326.3" stroke="#7c748a" stroke-width="0.5"/><line x1="450.0" y1="312.3" x2="451.6" y2="312.8" stroke="#8a8298" stroke-width="0.5"/><line x1="418.0" y1="332.5" x2="419.6" y2="333.0" stroke="#b2aabb" stroke-width="0.5"/><line x1="395.4" y1="316.6" x2="397.0" y2="317.1" stroke="#7c748a" stroke-width="0.5"/><line x1="398.2" y1="322.7" x2="399.8" y2="323.2" stroke="#8a8298" stroke-width="0.5"/><line x1="453.2" y1="320.5" x2="454.8" y2="321.0" stroke="#8a8298" stroke-width="0.5"/><line x1="441.6" y1="305.9" x2="443.2" y2="306.4" stroke="#9a92a6" stroke-width="0.5"/><line x1="451.9" y1="337.0" x2="453.5" y2="337.5" stroke="#7c748a" stroke-width="0.5"/><line x1="446.0" y1="304.9" x2="447.6" y2="305.4" stroke="#8a8298" stroke-width="0.5"/><line x1="432.9" y1="328.8" x2="434.5" y2="329.3" stroke="#8a8298" stroke-width="0.5"/><line x1="430.3" y1="306.1" x2="431.9" y2="306.6" stroke="#9a92a6" stroke-width="0.5"/><line x1="439.9" y1="320.4" x2="441.5" y2="320.9" stroke="#9a92a6" stroke-width="0.5"/><line x1="424.6" y1="312.6" x2="426.2" y2="313.1" stroke="#b2aabb" stroke-width="0.5"/><line x1="453.1" y1="335.9" x2="454.7" y2="336.4" stroke="#7c748a" stroke-width="0.5"/><line x1="386.9" y1="315.4" x2="388.5" y2="315.9" stroke="#7c748a" stroke-width="0.5"/><line x1="390.7" y1="326.9" x2="392.3" y2="327.4" stroke="#8a8298" stroke-width="0.5"/><line x1="395.4" y1="334.4" x2="397.0" y2="334.9" stroke="#b2aabb" stroke-width="0.5"/><line x1="382.2" y1="328.6" x2="383.8" y2="329.1" stroke="#9a92a6" stroke-width="0.5"/><line x1="410.3" y1="338.9" x2="411.9" y2="339.4" stroke="#9a92a6" stroke-width="0.5"/><line x1="389.6" y1="329.2" x2="391.2" y2="329.7" stroke="#b2aabb" stroke-width="0.5"/><line x1="447.6" y1="336.1" x2="449.2" y2="336.6" stroke="#9a92a6" stroke-width="0.5"/><line x1="404.7" y1="301.8" x2="406.3" y2="302.3" stroke="#7c748a" stroke-width="0.5"/><line x1="418.3" y1="298.2" x2="419.9" y2="298.7" stroke="#8a8298" stroke-width="0.5"/><line x1="380.8" y1="340.5" x2="382.4" y2="341.0" stroke="#8a8298" stroke-width="0.5"/><line x1="433.5" y1="304.6" x2="435.1" y2="305.1" stroke="#b2aabb" stroke-width="0.5"/><line x1="401.0" y1="333.8" x2="402.6" y2="334.3" stroke="#9a92a6" stroke-width="0.5"/><line x1="380.7" y1="338.7" x2="382.3" y2="339.2" stroke="#8a8298" stroke-width="0.5"/><line x1="402.0" y1="334.7" x2="403.6" y2="335.2" stroke="#7c748a" stroke-width="0.5"/><line x1="425.0" y1="328.6" x2="426.6" y2="329.1" stroke="#9a92a6" stroke-width="0.5"/><line x1="409.9" y1="301.2" x2="411.5" y2="301.7" stroke="#8a8298" stroke-width="0.5"/><line x1="383.0" y1="302.5" x2="384.6" y2="303.0" stroke="#7c748a" stroke-width="0.5"/><line x1="430.6" y1="331.3" x2="432.2" y2="331.8" stroke="#9a92a6" stroke-width="0.5"/><line x1="389.7" y1="315.3" x2="391.3" y2="315.8" stroke="#8a8298" stroke-width="0.5"/><line x1="426.7" y1="307.2" x2="428.3" y2="307.7" stroke="#8a8298" stroke-width="0.5"/><line x1="392.0" y1="322.8" x2="393.6" y2="323.3" stroke="#7c748a" stroke-width="0.5"/><line x1="393.5" y1="334.2" x2="395.1" y2="334.7" stroke="#7c748a" stroke-width="0.5"/><line x1="440.1" y1="323.9" x2="441.7" y2="324.4" stroke="#9a92a6" stroke-width="0.5"/><line x1="413.8" y1="339.4" x2="415.4" y2="339.9" stroke="#b2aabb" stroke-width="0.5"/><line x1="408.8" y1="307.8" x2="410.4" y2="308.3" stroke="#b2aabb" stroke-width="0.5"/><line x1="442.0" y1="334.9" x2="443.6" y2="335.4" stroke="#b2aabb" stroke-width="0.5"/><line x1="450.7" y1="335.1" x2="452.3" y2="335.6" stroke="#9a92a6" stroke-width="0.5"/><line x1="407.6" y1="303.6" x2="409.2" y2="304.1" stroke="#b2aabb" stroke-width="0.5"/><line x1="400.9" y1="316.0" x2="402.5" y2="316.5" stroke="#9a92a6" stroke-width="0.5"/><line x1="411.1" y1="320.9" x2="412.7" y2="321.4" stroke="#9a92a6" stroke-width="0.5"/><line x1="407.5" y1="306.0" x2="409.1" y2="306.5" stroke="#9a92a6" stroke-width="0.5"/><line x1="398.8" y1="315.9" x2="400.4" y2="316.4" stroke="#7c748a" stroke-width="0.5"/><line x1="447.3" y1="339.2" x2="448.9" y2="339.7" stroke="#9a92a6" stroke-width="0.5"/><line x1="450.2" y1="336.8" x2="451.8" y2="337.3" stroke="#9a92a6" stroke-width="0.5"/><line x1="382.0" y1="325.9" x2="383.6" y2="326.4" stroke="#b2aabb" stroke-width="0.5"/><line x1="459.8" y1="325.1" x2="461.4" y2="325.6" stroke="#9a92a6" stroke-width="0.5"/><line x1="433.7" y1="308.3" x2="435.3" y2="308.8" stroke="#9a92a6" stroke-width="0.5"/><line x1="417.2" y1="339.8" x2="418.8" y2="340.3" stroke="#b2aabb" stroke-width="0.5"/><line x1="388.9" y1="312.6" x2="390.5" y2="313.1" stroke="#8a8298" stroke-width="0.5"/><line x1="389.6" y1="323.7" x2="391.2" y2="324.2" stroke="#b2aabb" stroke-width="0.5"/><line x1="386.4" y1="323.6" x2="388.0" y2="324.1" stroke="#8a8298" stroke-width="0.5"/><line x1="417.7" y1="320.0" x2="419.3" y2="320.5" stroke="#b2aabb" stroke-width="0.5"/><line x1="459.6" y1="323.0" x2="461.2" y2="323.5" stroke="#b2aabb" stroke-width="0.5"/><line x1="400.4" y1="301.0" x2="402.0" y2="301.5" stroke="#b2aabb" stroke-width="0.5"/><line x1="452.9" y1="324.4" x2="454.5" y2="324.9" stroke="#8a8298" stroke-width="0.5"/><line x1="436.2" y1="306.1" x2="437.8" y2="306.6" stroke="#b2aabb" stroke-width="0.5"/><line x1="419.6" y1="321.7" x2="421.2" y2="322.2" stroke="#7c748a" stroke-width="0.5"/><line x1="420.3" y1="311.0" x2="421.9" y2="311.5" stroke="#8a8298" stroke-width="0.5"/><line x1="408.4" y1="305.5" x2="410.0" y2="306.0" stroke="#7c748a" stroke-width="0.5"/><line x1="464.3" y1="314.8" x2="465.9" y2="315.3" stroke="#b2aabb" stroke-width="0.5"/><line x1="393.3" y1="339.8" x2="394.9" y2="340.3" stroke="#b2aabb" stroke-width="0.5"/><line x1="428.0" y1="319.1" x2="429.6" y2="319.6" stroke="#b2aabb" stroke-width="0.5"/><line x1="456.3" y1="306.7" x2="457.9" y2="307.2" stroke="#9a92a6" stroke-width="0.5"/><line x1="446.9" y1="304.1" x2="448.5" y2="304.6" stroke="#9a92a6" stroke-width="0.5"/><line x1="432.3" y1="312.7" x2="433.9" y2="313.2" stroke="#9a92a6" stroke-width="0.5"/><line x1="424.5" y1="334.5" x2="426.1" y2="335.0" stroke="#b2aabb" stroke-width="0.5"/><line x1="443.7" y1="301.9" x2="445.3" y2="302.4" stroke="#8a8298" stroke-width="0.5"/><line x1="466.1" y1="327.5" x2="467.7" y2="328.0" stroke="#8a8298" stroke-width="0.5"/><line x1="415.7" y1="327.1" x2="417.3" y2="327.6" stroke="#8a8298" stroke-width="0.5"/><line x1="438.4" y1="324.7" x2="440.0" y2="325.2" stroke="#b2aabb" stroke-width="0.5"/><line x1="451.3" y1="320.3" x2="452.9" y2="320.8" stroke="#7c748a" stroke-width="0.5"/><line x1="402.6" y1="325.4" x2="404.2" y2="325.9" stroke="#8a8298" stroke-width="0.5"/><line x1="415.3" y1="301.7" x2="416.9" y2="302.2" stroke="#7c748a" stroke-width="0.5"/><line x1="446.4" y1="323.4" x2="448.0" y2="323.9" stroke="#7c748a" stroke-width="0.5"/><line x1="414.0" y1="341.7" x2="415.6" y2="342.2" stroke="#8a8298" stroke-width="0.5"/><line x1="415.8" y1="332.3" x2="417.4" y2="332.8" stroke="#9a92a6" stroke-width="0.5"/><line x1="412.4" y1="317.4" x2="414.0" y2="317.9" stroke="#7c748a" stroke-width="0.5"/><line x1="404.3" y1="312.9" x2="405.9" y2="313.4" stroke="#b2aabb" stroke-width="0.5"/><line x1="413.4" y1="322.0" x2="415.0" y2="322.5" stroke="#7c748a" stroke-width="0.5"/><line x1="436.0" y1="297.3" x2="437.6" y2="297.8" stroke="#7c748a" stroke-width="0.5"/><line x1="412.5" y1="310.5" x2="414.1" y2="311.0" stroke="#b2aabb" stroke-width="0.5"/><line x1="449.7" y1="316.6" x2="451.3" y2="317.1" stroke="#7c748a" stroke-width="0.5"/><line x1="430.2" y1="301.0" x2="431.8" y2="301.5" stroke="#b2aabb" stroke-width="0.5"/><line x1="407.5" y1="335.0" x2="409.1" y2="335.5" stroke="#8a8298" stroke-width="0.5"/><line x1="463.4" y1="306.2" x2="465.0" y2="306.7" stroke="#7c748a" stroke-width="0.5"/><line x1="457.4" y1="340.0" x2="459.0" y2="340.5" stroke="#9a92a6" stroke-width="0.5"/><line x1="383.2" y1="322.4" x2="384.8" y2="322.9" stroke="#7c748a" stroke-width="0.5"/><line x1="405.4" y1="321.1" x2="407.0" y2="321.6" stroke="#b2aabb" stroke-width="0.5"/><line x1="426.4" y1="341.9" x2="428.0" y2="342.4" stroke="#7c748a" stroke-width="0.5"/><line x1="413.3" y1="313.1" x2="414.9" y2="313.6" stroke="#b2aabb" stroke-width="0.5"/><line x1="418.9" y1="297.5" x2="420.5" y2="298.0" stroke="#9a92a6" stroke-width="0.5"/><line x1="425.2" y1="301.5" x2="426.8" y2="302.0" stroke="#b2aabb" stroke-width="0.5"/><line x1="423.1" y1="326.2" x2="424.7" y2="326.7" stroke="#8a8298" stroke-width="0.5"/><line x1="456.4" y1="340.4" x2="458.0" y2="340.9" stroke="#7c748a" stroke-width="0.5"/><line x1="414.3" y1="331.5" x2="415.9" y2="332.0" stroke="#b2aabb" stroke-width="0.5"/><line x1="439.9" y1="330.6" x2="441.5" y2="331.1" stroke="#9a92a6" stroke-width="0.5"/><line x1="394.0" y1="311.3" x2="395.6" y2="311.8" stroke="#9a92a6" stroke-width="0.5"/><line x1="451.7" y1="320.1" x2="453.3" y2="320.6" stroke="#9a92a6" stroke-width="0.5"/><line x1="436.7" y1="310.3" x2="438.3" y2="310.8" stroke="#b2aabb" stroke-width="0.5"/><line x1="451.2" y1="341.6" x2="452.8" y2="342.1" stroke="#7c748a" stroke-width="0.5"/><line x1="434.5" y1="320.6" x2="436.1" y2="321.1" stroke="#8a8298" stroke-width="0.5"/><line x1="423.4" y1="305.5" x2="425.0" y2="306.0" stroke="#8a8298" stroke-width="0.5"/><line x1="384.3" y1="322.4" x2="385.9" y2="322.9" stroke="#9a92a6" stroke-width="0.5"/><line x1="410.1" y1="341.7" x2="411.7" y2="342.2" stroke="#9a92a6" stroke-width="0.5"/><line x1="439.9" y1="297.5" x2="441.5" y2="298.0" stroke="#9a92a6" stroke-width="0.5"/><line x1="406.0" y1="328.1" x2="407.6" y2="328.6" stroke="#9a92a6" stroke-width="0.5"/><line x1="459.7" y1="314.9" x2="461.3" y2="315.4" stroke="#9a92a6" stroke-width="0.5"/><line x1="430.6" y1="327.1" x2="432.2" y2="327.6" stroke="#8a8298" stroke-width="0.5"/><line x1="394.4" y1="331.6" x2="396.0" y2="332.1" stroke="#b2aabb" stroke-width="0.5"/><line x1="455.7" y1="337.3" x2="457.3" y2="337.8" stroke="#8a8298" stroke-width="0.5"/><line x1="429.6" y1="315.5" x2="431.2" y2="316.0" stroke="#9a92a6" stroke-width="0.5"/><line x1="391.8" y1="320.3" x2="393.4" y2="320.8" stroke="#9a92a6" stroke-width="0.5"/><line x1="381.6" y1="300.4" x2="383.2" y2="300.9" stroke="#7c748a" stroke-width="0.5"/><line x1="451.4" y1="324.6" x2="453.0" y2="325.1" stroke="#9a92a6" stroke-width="0.5"/><line x1="436.2" y1="327.8" x2="437.8" y2="328.3" stroke="#b2aabb" stroke-width="0.5"/><line x1="391.7" y1="307.7" x2="393.3" y2="308.2" stroke="#b2aabb" stroke-width="0.5"/><line x1="393.9" y1="309.0" x2="395.5" y2="309.5" stroke="#9a92a6" stroke-width="0.5"/><line x1="454.6" y1="339.6" x2="456.2" y2="340.1" stroke="#9a92a6" stroke-width="0.5"/><line x1="409.7" y1="317.2" x2="411.3" y2="317.7" stroke="#7c748a" stroke-width="0.5"/><line x1="380.7" y1="306.9" x2="382.3" y2="307.4" stroke="#7c748a" stroke-width="0.5"/><line x1="430.3" y1="340.2" x2="431.9" y2="340.7" stroke="#7c748a" stroke-width="0.5"/><line x1="383.8" y1="307.7" x2="385.4" y2="308.2" stroke="#8a8298" stroke-width="0.5"/><line x1="382.9" y1="338.9" x2="384.5" y2="339.4" stroke="#8a8298" stroke-width="0.5"/><line x1="406.7" y1="337.4" x2="408.3" y2="337.9" stroke="#7c748a" stroke-width="0.5"/><line x1="405.7" y1="324.1" x2="407.3" y2="324.6" stroke="#7c748a" stroke-width="0.5"/><line x1="465.2" y1="300.0" x2="466.8" y2="300.5" stroke="#7c748a" stroke-width="0.5"/><line x1="438.4" y1="323.3" x2="440.0" y2="323.8" stroke="#7c748a" stroke-width="0.5"/><line x1="406.2" y1="336.4" x2="407.8" y2="336.9" stroke="#7c748a" stroke-width="0.5"/><line x1="381.0" y1="336.1" x2="382.6" y2="336.6" stroke="#9a92a6" stroke-width="0.5"/><line x1="394.3" y1="313.1" x2="395.9" y2="313.6" stroke="#8a8298" stroke-width="0.5"/><line x1="379.7" y1="336.7" x2="381.3" y2="337.2" stroke="#7c748a" stroke-width="0.5"/><line x1="428.4" y1="302.2" x2="430.0" y2="302.7" stroke="#7c748a" stroke-width="0.5"/><line x1="408.6" y1="326.3" x2="410.2" y2="326.8" stroke="#9a92a6" stroke-width="0.5"/><line x1="416.2" y1="338.1" x2="417.8" y2="338.6" stroke="#8a8298" stroke-width="0.5"/><line x1="413.1" y1="318.0" x2="414.7" y2="318.5" stroke="#b2aabb" stroke-width="0.5"/><line x1="399.9" y1="298.6" x2="401.5" y2="299.1" stroke="#9a92a6" stroke-width="0.5"/><line x1="409.0" y1="304.0" x2="410.6" y2="304.5" stroke="#8a8298" stroke-width="0.5"/><line x1="387.2" y1="309.1" x2="388.8" y2="309.6" stroke="#8a8298" stroke-width="0.5"/><line x1="427.8" y1="318.0" x2="429.4" y2="318.5" stroke="#8a8298" stroke-width="0.5"/><line x1="393.0" y1="312.9" x2="394.6" y2="313.4" stroke="#7c748a" stroke-width="0.5"/><line x1="412.2" y1="340.1" x2="413.8" y2="340.6" stroke="#8a8298" stroke-width="0.5"/><line x1="405.2" y1="318.4" x2="406.8" y2="318.9" stroke="#8a8298" stroke-width="0.5"/><line x1="399.0" y1="317.4" x2="400.6" y2="317.9" stroke="#8a8298" stroke-width="0.5"/><line x1="461.9" y1="341.9" x2="463.5" y2="342.4" stroke="#7c748a" stroke-width="0.5"/><line x1="430.7" y1="313.6" x2="432.3" y2="314.1" stroke="#8a8298" stroke-width="0.5"/><line x1="414.6" y1="320.0" x2="416.2" y2="320.5" stroke="#8a8298" stroke-width="0.5"/><line x1="455.8" y1="302.5" x2="457.4" y2="303.0" stroke="#9a92a6" stroke-width="0.5"/><line x1="426.7" y1="309.2" x2="428.3" y2="309.7" stroke="#7c748a" stroke-width="0.5"/><line x1="381.5" y1="329.3" x2="383.1" y2="329.8" stroke="#8a8298" stroke-width="0.5"/><line x1="406.3" y1="314.5" x2="407.9" y2="315.0" stroke="#9a92a6" stroke-width="0.5"/><line x1="440.1" y1="331.9" x2="441.7" y2="332.4" stroke="#8a8298" stroke-width="0.5"/><line x1="407.3" y1="326.8" x2="408.9" y2="327.3" stroke="#9a92a6" stroke-width="0.5"/><line x1="385.0" y1="338.1" x2="386.6" y2="338.6" stroke="#b2aabb" stroke-width="0.5"/><line x1="396.0" y1="329.3" x2="397.6" y2="329.8" stroke="#9a92a6" stroke-width="0.5"/><line x1="398.9" y1="302.7" x2="400.5" y2="303.2" stroke="#7c748a" stroke-width="0.5"/><line x1="403.8" y1="315.2" x2="405.4" y2="315.7" stroke="#7c748a" stroke-width="0.5"/><line x1="447.2" y1="336.7" x2="448.8" y2="337.2" stroke="#8a8298" stroke-width="0.5"/><line x1="461.4" y1="304.9" x2="463.0" y2="305.4" stroke="#b2aabb" stroke-width="0.5"/><line x1="438.8" y1="326.9" x2="440.4" y2="327.4" stroke="#b2aabb" stroke-width="0.5"/><line x1="457.9" y1="298.1" x2="459.5" y2="298.6" stroke="#7c748a" stroke-width="0.5"/><line x1="400.9" y1="335.1" x2="402.5" y2="335.6" stroke="#b2aabb" stroke-width="0.5"/><line x1="458.7" y1="301.4" x2="460.3" y2="301.9" stroke="#b2aabb" stroke-width="0.5"/><line x1="389.1" y1="338.1" x2="390.7" y2="338.6" stroke="#8a8298" stroke-width="0.5"/><line x1="441.7" y1="298.8" x2="443.3" y2="299.3" stroke="#9a92a6" stroke-width="0.5"/><line x1="432.6" y1="316.4" x2="434.2" y2="316.9" stroke="#b2aabb" stroke-width="0.5"/><line x1="392.7" y1="330.2" x2="394.3" y2="330.7" stroke="#b2aabb" stroke-width="0.5"/><line x1="434.4" y1="339.4" x2="436.0" y2="339.9" stroke="#8a8298" stroke-width="0.5"/><line x1="429.2" y1="329.2" x2="430.8" y2="329.7" stroke="#b2aabb" stroke-width="0.5"/><line x1="460.5" y1="327.2" x2="462.1" y2="327.7" stroke="#b2aabb" stroke-width="0.5"/><line x1="461.3" y1="302.0" x2="462.9" y2="302.5" stroke="#b2aabb" stroke-width="0.5"/><line x1="458.3" y1="336.4" x2="459.9" y2="336.9" stroke="#9a92a6" stroke-width="0.5"/><line x1="464.7" y1="327.6" x2="466.3" y2="328.1" stroke="#9a92a6" stroke-width="0.5"/><line x1="448.6" y1="306.5" x2="450.2" y2="307.0" stroke="#b2aabb" stroke-width="0.5"/><line x1="445.0" y1="300.9" x2="446.6" y2="301.4" stroke="#7c748a" stroke-width="0.5"/><line x1="466.8" y1="324.7" x2="468.4" y2="325.2" stroke="#8a8298" stroke-width="0.5"/><line x1="403.7" y1="301.0" x2="405.3" y2="301.5" stroke="#7c748a" stroke-width="0.5"/><line x1="417.9" y1="312.3" x2="419.5" y2="312.8" stroke="#7c748a" stroke-width="0.5"/><line x1="423.8" y1="327.4" x2="425.4" y2="327.9" stroke="#8a8298" stroke-width="0.5"/><line x1="416.7" y1="320.0" x2="418.3" y2="320.5" stroke="#8a8298" stroke-width="0.5"/><line x1="422.1" y1="305.5" x2="423.7" y2="306.0" stroke="#b2aabb" stroke-width="0.5"/><line x1="394.4" y1="304.4" x2="396.0" y2="304.9" stroke="#8a8298" stroke-width="0.5"/><line x1="426.9" y1="308.2" x2="428.5" y2="308.7" stroke="#9a92a6" stroke-width="0.5"/><line x1="393.8" y1="312.6" x2="395.4" y2="313.1" stroke="#9a92a6" stroke-width="0.5"/><line x1="396.7" y1="311.0" x2="398.3" y2="311.5" stroke="#8a8298" stroke-width="0.5"/><line x1="439.4" y1="318.9" x2="441.0" y2="319.4" stroke="#7c748a" stroke-width="0.5"/></g>
<ellipse cx="423.8" cy="303.3" rx="11.5" ry="5.4" fill="url(#blob1)"/>
<ellipse cx="416.5" cy="307.8" rx="4.2" ry="1.8" fill="#3a9a50" opacity="0.8"/>
<line x1="380.5" y1="343.2" x2="389.5" y2="343.2" stroke="#a8a8a8" stroke-width="0.9"/>
<line x1="60.80" y1="384.60" x2="60.80" y2="497.90" stroke="#2a2a2a" stroke-width="1.0"/>
<line x1="57.80" y1="497.40" x2="60.80" y2="497.40" stroke="#2a2a2a" stroke-width="1.0"/>
<line x1="57.80" y1="470.10" x2="60.80" y2="470.10" stroke="#2a2a2a" stroke-width="1.0"/>
<line x1="57.80" y1="442.80" x2="60.80" y2="442.80" stroke="#2a2a2a" stroke-width="1.0"/>
<line x1="57.80" y1="415.50" x2="60.80" y2="415.50" stroke="#2a2a2a" stroke-width="1.0"/>
<line x1="57.80" y1="388.10" x2="60.80" y2="388.10" stroke="#2a2a2a" stroke-width="1.0"/>
<line x1="60.30" y1="497.40" x2="162.00" y2="497.40" stroke="#2a2a2a" stroke-width="1.0"/>
<rect x="69.40" y="483.30" width="18.80" height="14.10" fill="#3aaa35"/>
<rect x="88.00" y="483.30" width="1.00" height="14.10" fill="#3aaa35"/>
<line x1="78.80" y1="481.00" x2="78.80" y2="483.30" stroke="#5a8f5a" stroke-width="0.95"/>
<line x1="74.10" y1="481.00" x2="83.50" y2="481.00" stroke="#5a8f5a" stroke-width="0.95"/>
<rect x="88.20" y="479.30" width="18.10" height="18.10" fill="#c4002a"/>
<line x1="97.25" y1="475.10" x2="97.25" y2="479.30" stroke="#a3334b" stroke-width="0.95"/>
<line x1="92.55" y1="475.10" x2="101.95" y2="475.10" stroke="#a3334b" stroke-width="0.95"/>
<rect x="124.70" y="450.30" width="18.10" height="47.10" fill="#3aaa35"/>
<rect x="142.60" y="450.30" width="1.00" height="47.10" fill="#3aaa35"/>
<line x1="133.75" y1="444.20" x2="133.75" y2="450.30" stroke="#5a8f5a" stroke-width="0.95"/>
<line x1="129.05" y1="444.20" x2="138.45" y2="444.20" stroke="#5a8f5a" stroke-width="0.95"/>
<rect x="142.80" y="425.00" width="18.00" height="72.40" fill="#c4002a"/>
<line x1="151.80" y1="414.60" x2="151.80" y2="425.00" stroke="#a3334b" stroke-width="0.95"/>
<line x1="147.10" y1="414.60" x2="156.50" y2="414.60" stroke="#a3334b" stroke-width="0.95"/>
<line x1="87.90" y1="497.40" x2="87.90" y2="499.80" stroke="#2a2a2a" stroke-width="1.0"/>
<text x="87.90" y="509.80" font-size="8.2" text-anchor="middle" textLength="36.30" lengthAdjust="spacingAndGlyphs" fill="#161616">Intraluminal</text>
<line x1="142.60" y1="497.40" x2="142.60" y2="499.80" stroke="#2a2a2a" stroke-width="1.0"/>
<text x="142.60" y="509.80" font-size="8.2" text-anchor="middle" textLength="38.70" lengthAdjust="spacingAndGlyphs" fill="#161616">Extraluminal</text>
<rect x="66.20" y="392.00" width="5.60" height="5.00" fill="#3aaa35"/>
<rect x="66.20" y="402.50" width="5.60" height="5.00" fill="#c4002a"/>
<text x="74.70" y="397.30" font-size="7.4" text-anchor="start" textLength="21.48" lengthAdjust="spacingAndGlyphs" fill="#161616">Vehicle</text>
<text x="74.70" y="407.90" font-size="7.4" text-anchor="start" textLength="31.46" lengthAdjust="spacingAndGlyphs" fill="#161616">Puromycin</text>
<text x="55.00" y="499.60" font-size="7.5" text-anchor="end" textLength="4.25" lengthAdjust="spacingAndGlyphs" fill="#161616">0</text>
<text x="55.20" y="468.30" font-size="5.3" text-anchor="end" textLength="2.95" lengthAdjust="spacingAndGlyphs" fill="#161616">6</text>
<text x="52.45" y="471.70" font-size="7.5" text-anchor="end" textLength="18.24" lengthAdjust="spacingAndGlyphs" fill="#161616">5×10</text>
<text x="55.20" y="441.00" font-size="5.3" text-anchor="end" textLength="2.95" lengthAdjust="spacingAndGlyphs" fill="#161616">7</text>
<text x="52.45" y="444.40" font-size="7.5" text-anchor="end" textLength="18.24" lengthAdjust="spacingAndGlyphs" fill="#161616">1×10</text>
<text x="55.20" y="413.70" font-size="5.3" text-anchor="end" textLength="2.95" lengthAdjust="spacingAndGlyphs" fill="#161616">7</text>
<text x="52.45" y="417.10" font-size="7.5" text-anchor="end" textLength="25.00" lengthAdjust="spacingAndGlyphs" fill="#161616">1.5×10</text>
<text x="55.20" y="386.30" font-size="5.3" text-anchor="end" textLength="2.95" lengthAdjust="spacingAndGlyphs" fill="#161616">7</text>
<text x="52.45" y="389.70" font-size="7.5" text-anchor="end" textLength="18.24" lengthAdjust="spacingAndGlyphs" fill="#161616">2×10</text>
<g transform="translate(20.9,441.0) rotate(-90) scale(0.7383,1)"><text x="0" y="0" font-size="8.5" text-anchor="middle" fill="#161616">Cd41 volume (µm<tspan font-size="5.5" dy="-3.2">3</tspan><tspan dy="3.2">)</tspan></text></g>
<line x1="221.20" y1="384.60" x2="221.20" y2="497.90" stroke="#2a2a2a" stroke-width="1.0"/>
<line x1="218.20" y1="497.40" x2="221.20" y2="497.40" stroke="#2a2a2a" stroke-width="1.0"/>
<line x1="218.20" y1="470.10" x2="221.20" y2="470.10" stroke="#2a2a2a" stroke-width="1.0"/>
<line x1="218.20" y1="442.80" x2="221.20" y2="442.80" stroke="#2a2a2a" stroke-width="1.0"/>
<line x1="218.20" y1="415.50" x2="221.20" y2="415.50" stroke="#2a2a2a" stroke-width="1.0"/>
<line x1="218.20" y1="388.10" x2="221.20" y2="388.10" stroke="#2a2a2a" stroke-width="1.0"/>
<line x1="220.70" y1="497.40" x2="332.30" y2="497.40" stroke="#2a2a2a" stroke-width="1.0"/>
<rect x="230.60" y="446.90" width="18.20" height="50.50" fill="#3aaa35"/>
<rect x="248.60" y="446.90" width="1.00" height="50.50" fill="#3aaa35"/>
<line x1="239.70" y1="441.20" x2="239.70" y2="446.90" stroke="#5a8f5a" stroke-width="0.95"/>
<line x1="235.00" y1="441.20" x2="244.40" y2="441.20" stroke="#5a8f5a" stroke-width="0.95"/>
<rect x="248.80" y="441.90" width="17.80" height="55.50" fill="#c4002a"/>
<line x1="257.70" y1="437.20" x2="257.70" y2="441.90" stroke="#a3334b" stroke-width="0.95"/>
<line x1="253.00" y1="437.20" x2="262.40" y2="437.20" stroke="#a3334b" stroke-width="0.95"/>
<rect x="285.50" y="399.40" width="17.80" height="98.00" fill="#3aaa35"/>
<rect x="303.10" y="412.20" width="1.00" height="85.20" fill="#3aaa35"/>
<line x1="294.40" y1="393.00" x2="294.40" y2="399.40" stroke="#5a8f5a" stroke-width="0.95"/>
<line x1="289.70" y1="393.00" x2="299.10" y2="393.00" stroke="#5a8f5a" stroke-width="0.95"/>
<rect x="303.30" y="412.20" width="18.20" height="85.20" fill="#c4002a"/>
<line x1="312.40" y1="406.90" x2="312.40" y2="412.20" stroke="#a3334b" stroke-width="0.95"/>
<line x1="307.70" y1="406.90" x2="317.10" y2="406.90" stroke="#a3334b" stroke-width="0.95"/>
<line x1="248.40" y1="497.40" x2="248.40" y2="499.80" stroke="#2a2a2a" stroke-width="1.0"/>
<text x="248.40" y="509.80" font-size="8.2" text-anchor="middle" textLength="36.30" lengthAdjust="spacingAndGlyphs" fill="#161616">Intraluminal</text>
<line x1="303.10" y1="497.40" x2="303.10" y2="499.80" stroke="#2a2a2a" stroke-width="1.0"/>
<text x="303.10" y="509.80" font-size="8.2" text-anchor="middle" textLength="38.70" lengthAdjust="spacingAndGlyphs" fill="#161616">Extraluminal</text>
<rect x="227.00" y="392.00" width="5.60" height="5.00" fill="#3aaa35"/>
<rect x="227.00" y="402.50" width="5.60" height="5.00" fill="#c4002a"/>
<text x="235.50" y="397.30" font-size="7.4" text-anchor="start" textLength="21.48" lengthAdjust="spacingAndGlyphs" fill="#161616">Vehicle</text>
<text x="235.50" y="407.90" font-size="7.4" text-anchor="start" textLength="31.46" lengthAdjust="spacingAndGlyphs" fill="#161616">Puromycin</text>
<text x="215.40" y="499.60" font-size="7.5" text-anchor="end" textLength="4.25" lengthAdjust="spacingAndGlyphs" fill="#161616">0</text>
<text x="215.40" y="472.30" font-size="7.5" text-anchor="end" textLength="4.25" lengthAdjust="spacingAndGlyphs" fill="#161616">5</text>
<text x="215.40" y="445.00" font-size="7.5" text-anchor="end" textLength="8.51" lengthAdjust="spacingAndGlyphs" fill="#161616">10</text>
<text x="215.40" y="417.70" font-size="7.5" text-anchor="end" textLength="8.51" lengthAdjust="spacingAndGlyphs" fill="#161616">15</text>
<text x="215.40" y="390.30" font-size="7.5" text-anchor="end" textLength="8.51" lengthAdjust="spacingAndGlyphs" fill="#161616">20</text>
<text x="201.00" y="441.10" font-size="8.5" text-anchor="middle" textLength="77.30" lengthAdjust="spacingAndGlyphs" fill="#161616" transform="rotate(-90 201.00 441.10)">Cd62p mean intensity (a.u.)</text>
<line x1="400.80" y1="384.60" x2="400.80" y2="497.90" stroke="#2a2a2a" stroke-width="1.0"/>
<line x1="397.80" y1="497.40" x2="400.80" y2="497.40" stroke="#2a2a2a" stroke-width="1.0"/>
<line x1="397.80" y1="470.10" x2="400.80" y2="470.10" stroke="#2a2a2a" stroke-width="1.0"/>
<line x1="397.80" y1="442.80" x2="400.80" y2="442.80" stroke="#2a2a2a" stroke-width="1.0"/>
<line x1="397.80" y1="415.50" x2="400.80" y2="415.50" stroke="#2a2a2a" stroke-width="1.0"/>
<line x1="397.80" y1="388.10" x2="400.80" y2="388.10" stroke="#2a2a2a" stroke-width="1.0"/>
<line x1="400.30" y1="497.40" x2="503.00" y2="497.40" stroke="#2a2a2a" stroke-width="1.0"/>
<rect x="409.60" y="496.20" width="17.90" height="1.20" fill="#3aaa35"/>
<rect x="427.30" y="496.20" width="1.00" height="1.20" fill="#3aaa35"/>
<line x1="418.55" y1="495.70" x2="418.55" y2="496.20" stroke="#5a8f5a" stroke-width="0.95"/>
<line x1="413.85" y1="495.70" x2="423.25" y2="495.70" stroke="#5a8f5a" stroke-width="0.95"/>
<rect x="427.50" y="495.60" width="19.20" height="1.80" fill="#c4002a"/>
<line x1="437.10" y1="494.40" x2="437.10" y2="495.60" stroke="#a3334b" stroke-width="0.95"/>
<line x1="432.40" y1="494.40" x2="441.80" y2="494.40" stroke="#a3334b" stroke-width="0.95"/>
<rect x="464.50" y="416.60" width="18.50" height="80.80" fill="#3aaa35"/>
<rect x="482.80" y="417.60" width="1.00" height="79.80" fill="#3aaa35"/>
<line x1="473.75" y1="399.80" x2="473.75" y2="416.60" stroke="#5a8f5a" stroke-width="0.95"/>
<line x1="469.05" y1="399.80" x2="478.45" y2="399.80" stroke="#5a8f5a" stroke-width="0.95"/>
<rect x="483.00" y="417.60" width="17.90" height="79.80" fill="#c4002a"/>
<line x1="491.95" y1="396.10" x2="491.95" y2="417.60" stroke="#a3334b" stroke-width="0.95"/>
<line x1="487.25" y1="396.10" x2="496.65" y2="396.10" stroke="#a3334b" stroke-width="0.95"/>
<line x1="428.20" y1="497.40" x2="428.20" y2="499.80" stroke="#2a2a2a" stroke-width="1.0"/>
<text x="428.20" y="509.80" font-size="8.2" text-anchor="middle" textLength="36.30" lengthAdjust="spacingAndGlyphs" fill="#161616">Intraluminal</text>
<line x1="483.00" y1="497.40" x2="483.00" y2="499.80" stroke="#2a2a2a" stroke-width="1.0"/>
<text x="483.00" y="509.80" font-size="8.2" text-anchor="middle" textLength="38.70" lengthAdjust="spacingAndGlyphs" fill="#161616">Extraluminal</text>
<rect x="406.30" y="392.00" width="5.60" height="5.00" fill="#3aaa35"/>
<rect x="406.30" y="402.50" width="5.60" height="5.00" fill="#c4002a"/>
<text x="414.80" y="397.30" font-size="7.4" text-anchor="start" textLength="21.48" lengthAdjust="spacingAndGlyphs" fill="#161616">Vehicle</text>
<text x="414.80" y="407.90" font-size="7.4" text-anchor="start" textLength="31.46" lengthAdjust="spacingAndGlyphs" fill="#161616">Puromycin</text>
<text x="395.00" y="499.60" font-size="7.5" text-anchor="end" textLength="4.25" lengthAdjust="spacingAndGlyphs" fill="#161616">0</text>
<text x="395.30" y="468.30" font-size="5.3" text-anchor="end" textLength="2.95" lengthAdjust="spacingAndGlyphs" fill="#161616">7</text>
<text x="392.55" y="471.70" font-size="7.5" text-anchor="end" textLength="18.24" lengthAdjust="spacingAndGlyphs" fill="#161616">5×10</text>
<text x="395.30" y="441.00" font-size="5.3" text-anchor="end" textLength="2.95" lengthAdjust="spacingAndGlyphs" fill="#161616">8</text>
<text x="392.55" y="444.40" font-size="7.5" text-anchor="end" textLength="18.24" lengthAdjust="spacingAndGlyphs" fill="#161616">1×10</text>
<text x="395.30" y="413.70" font-size="5.3" text-anchor="end" textLength="2.95" lengthAdjust="spacingAndGlyphs" fill="#161616">8</text>
<text x="392.55" y="417.10" font-size="7.5" text-anchor="end" textLength="25.00" lengthAdjust="spacingAndGlyphs" fill="#161616">1.5×10</text>
<text x="395.30" y="386.30" font-size="5.3" text-anchor="end" textLength="2.95" lengthAdjust="spacingAndGlyphs" fill="#161616">8</text>
<text x="392.55" y="389.70" font-size="7.5" text-anchor="end" textLength="18.24" lengthAdjust="spacingAndGlyphs" fill="#161616">2×10</text>
<text x="361.30" y="440.30" font-size="8.5" text-anchor="middle" textLength="70.30" lengthAdjust="spacingAndGlyphs" fill="#161616" transform="rotate(-90 361.30 440.30)">Fibrin sum intensity (a.u.)</text>
</svg>
</body></html>
